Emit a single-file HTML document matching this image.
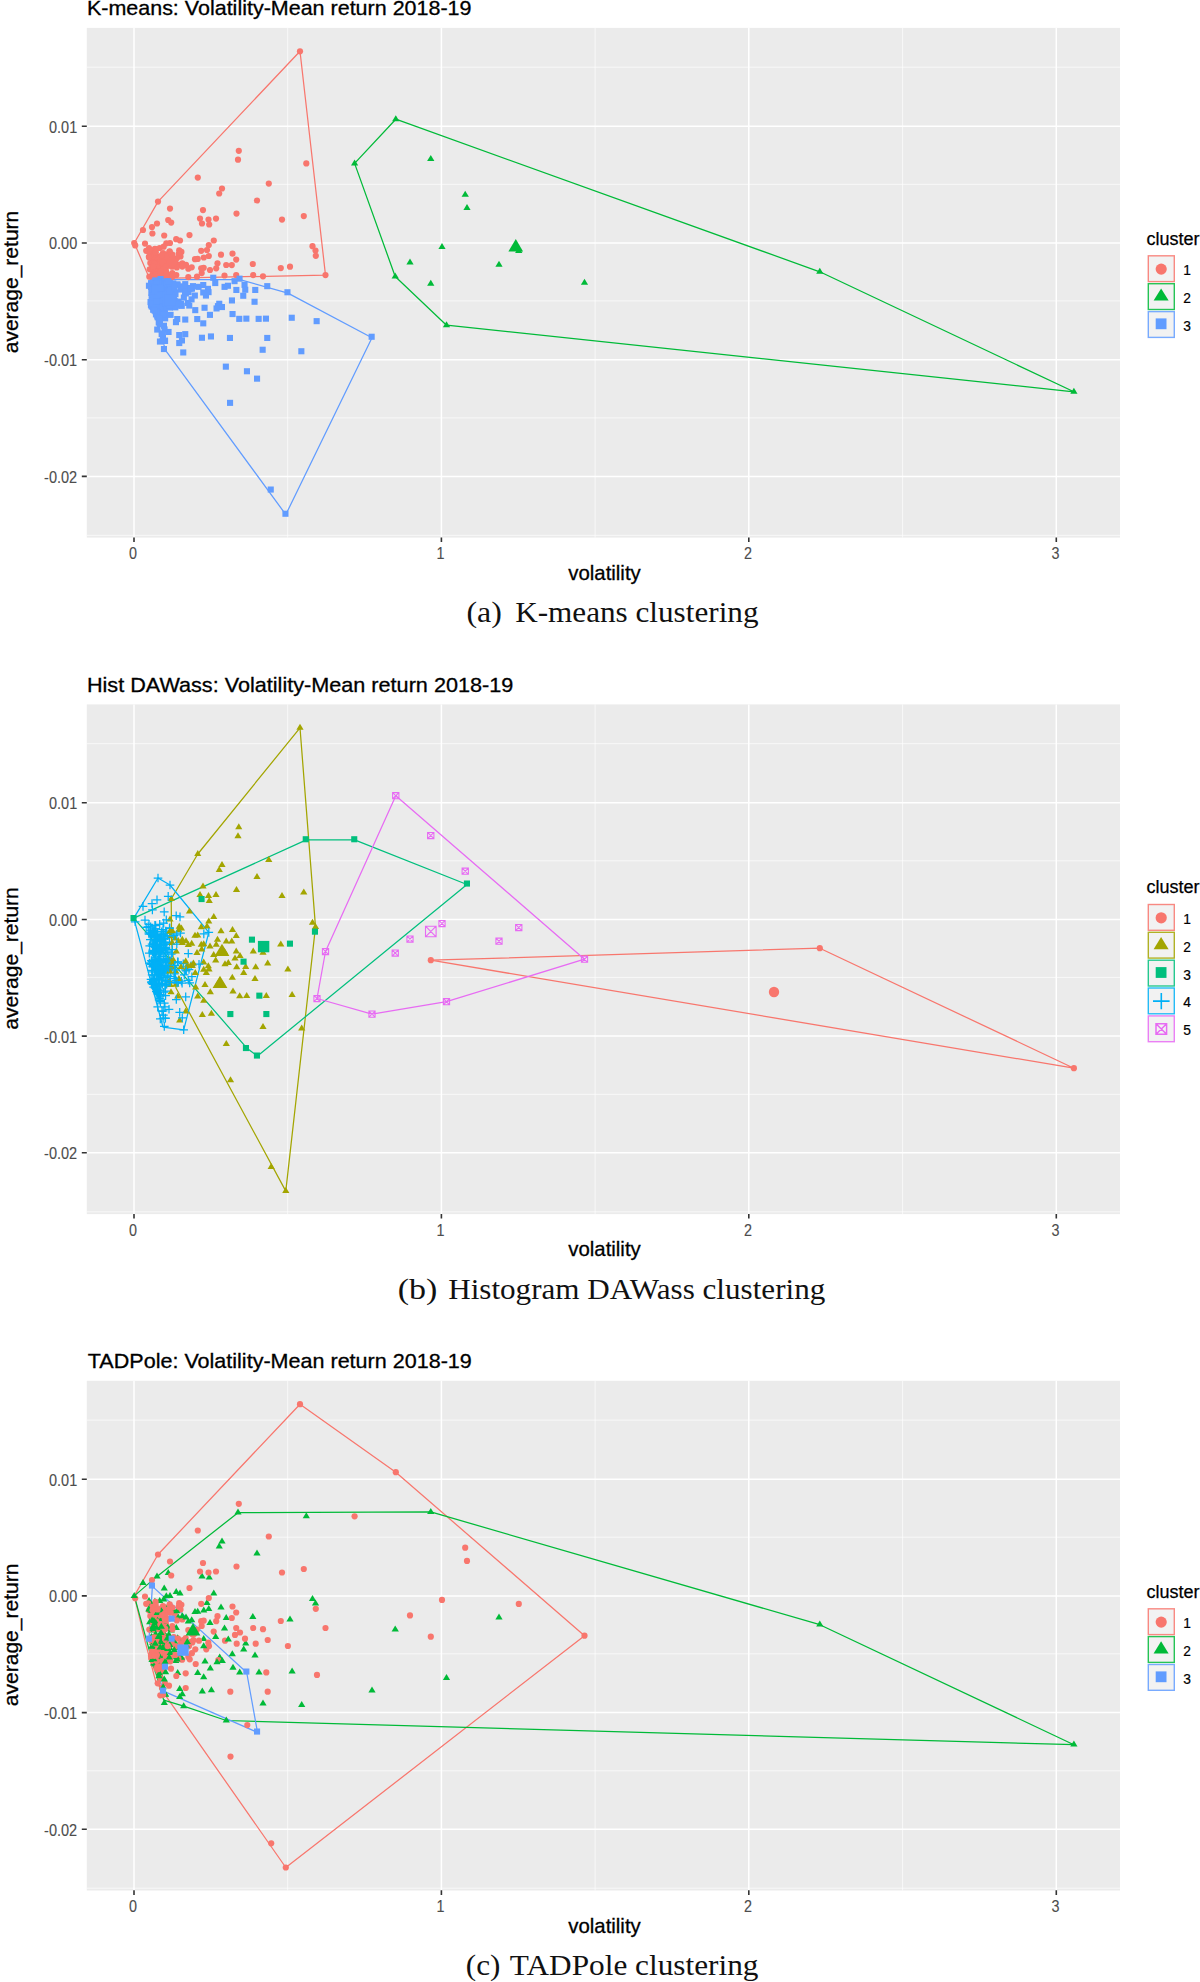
<!DOCTYPE html>
<html lang="en"><head><meta charset="utf-8"><title>Clustering: Volatility-Mean return 2018-19</title>
<style>
html,body{margin:0;padding:0;background:#fff}
svg{display:block}
text{font-family:"Liberation Sans",sans-serif}
.tt{font-size:20.4px;fill:#000;stroke:#000;stroke-width:.3px}
.tk{font-size:15.6px;fill:#4D4D4D;stroke:#4D4D4D;stroke-width:.12px}
.ax{font-size:21px;fill:#000;stroke:#000;stroke-width:.3px}
.lt{font-size:18px;fill:#000;stroke:#000;stroke-width:.25px}
.ll{font-size:13.8px;fill:#000;stroke:#000;stroke-width:.2px}
.cp{font-family:"Liberation Serif","DejaVu Serif",serif;font-size:28.5px;fill:#111}
</style></head><body>
<svg width="1200" height="1982" viewBox="0 0 1200 1982">
<rect width="1200" height="1982" fill="#fff"/>
<g id="plot-kmeans">
<rect x="86.8" y="27.9" width="1033.2" height="509.70000000000005" fill="#EBEBEB"/>
<path d="M287.7 27.9V537.6M595.1 27.9V537.6M902.6 27.9V537.6M86.8 67.2H1120.0M86.8 184.3H1120.0M86.8 300.9H1120.0M86.8 417.9H1120.0M86.8 535.3H1120.0" stroke="#fff" stroke-opacity="0.75" stroke-width="0.9" fill="none"/>
<path d="M134 27.9V537.6M441.4 27.9V537.6M748.8 27.9V537.6M1056.3 27.9V537.6M86.8 126.3H1120.0M86.8 243H1120.0M86.8 359.7H1120.0M86.8 476.4H1120.0" stroke="#fff" stroke-width="1.5" fill="none"/>
<path d="M134 537.4v4.6M441.4 537.4v4.6M748.8 537.4v4.6M1056.3 537.4v4.6M86.8 126.3h-5.0M86.8 243h-5.0M86.8 359.7h-5.0M86.8 476.4h-5.0" stroke="#333" stroke-width="1.6" fill="none"/>
<text class="tk" x="133.1" y="559.2" text-anchor="middle" textLength="8" lengthAdjust="spacingAndGlyphs">0</text>
<text class="tk" x="440.5" y="559.2" text-anchor="middle" textLength="8" lengthAdjust="spacingAndGlyphs">1</text>
<text class="tk" x="747.9" y="559.2" text-anchor="middle" textLength="8" lengthAdjust="spacingAndGlyphs">2</text>
<text class="tk" x="1055.4" y="559.2" text-anchor="middle" textLength="8" lengthAdjust="spacingAndGlyphs">3</text>
<text class="tk" x="77.2" y="132.7" text-anchor="end" textLength="28.2" lengthAdjust="spacingAndGlyphs">0.01</text>
<text class="tk" x="77.2" y="249.4" text-anchor="end" textLength="28.2" lengthAdjust="spacingAndGlyphs">0.00</text>
<text class="tk" x="77.2" y="366.1" text-anchor="end" textLength="33.1" lengthAdjust="spacingAndGlyphs">-0.01</text>
<text class="tk" x="77.2" y="482.8" text-anchor="end" textLength="33.1" lengthAdjust="spacingAndGlyphs">-0.02</text>
<text class="ax" x="604.5" y="579.8" text-anchor="middle" textLength="72.5" lengthAdjust="spacingAndGlyphs">volatility</text>
<text class="ax" transform="translate(18.2 282) rotate(-90)" text-anchor="middle" textLength="142.6" lengthAdjust="spacingAndGlyphs">average_return</text>
<text class="tt" x="86.9" y="15.3" textLength="384.6" lengthAdjust="spacingAndGlyphs">K-means: Volatility-Mean return 2018-19</text>
<path d="M134.3 243L158 201.6L300 51.3L325.5 275.1L149.5 278.6Z" stroke="#F8766D" stroke-width="1.25" fill="none" stroke-linejoin="round"/>
<path d="M354.6 163.4L395.8 119.2L819.8 271.8L1073.9 391.8L446.5 325.2L395.2 276.5Z" stroke="#00BA38" stroke-width="1.25" fill="none" stroke-linejoin="round"/>
<path d="M150.2 279.6L240 279.6L287.9 293.1L372 337.7L285.8 514.6L165.4 350.2L156.6 318L150.2 307Z" stroke="#619CFF" stroke-width="1.25" fill="none" stroke-linejoin="round"/>
<g><circle cx="300" cy="51.3" r="3.1" fill="#F8766D"/><circle cx="238.8" cy="150.8" r="3.1" fill="#F8766D"/><circle cx="238" cy="159.7" r="3.1" fill="#F8766D"/><circle cx="306.3" cy="163.4" r="3.1" fill="#F8766D"/><circle cx="197.8" cy="177.6" r="3.1" fill="#F8766D"/><circle cx="268.8" cy="183.6" r="3.1" fill="#F8766D"/><circle cx="222" cy="188.5" r="3.1" fill="#F8766D"/><circle cx="219.2" cy="193.5" r="3.1" fill="#F8766D"/><circle cx="257" cy="200.5" r="3.1" fill="#F8766D"/><circle cx="158" cy="201.6" r="3.1" fill="#F8766D"/><circle cx="170" cy="208.6" r="3.1" fill="#F8766D"/><circle cx="203" cy="210.1" r="3.1" fill="#F8766D"/><circle cx="236.5" cy="213.6" r="3.1" fill="#F8766D"/><circle cx="303.8" cy="216.1" r="3.1" fill="#F8766D"/><circle cx="282" cy="219.6" r="3.1" fill="#F8766D"/><circle cx="200" cy="218.6" r="3.1" fill="#F8766D"/><circle cx="208.5" cy="219.6" r="3.1" fill="#F8766D"/><circle cx="216" cy="218.6" r="3.1" fill="#F8766D"/><circle cx="202" cy="223.5" r="3.1" fill="#F8766D"/><circle cx="209.2" cy="224.5" r="3.1" fill="#F8766D"/><circle cx="168.2" cy="220" r="3.1" fill="#F8766D"/><circle cx="171.2" cy="222.6" r="3.1" fill="#F8766D"/><circle cx="157" cy="223.5" r="3.1" fill="#F8766D"/><circle cx="143" cy="230" r="3.1" fill="#F8766D"/><circle cx="152" cy="227.1" r="3.1" fill="#F8766D"/><circle cx="152.4" cy="233.5" r="3.1" fill="#F8766D"/><circle cx="164.2" cy="235.5" r="3.1" fill="#F8766D"/><circle cx="176.2" cy="239.2" r="3.1" fill="#F8766D"/><circle cx="180" cy="240.5" r="3.1" fill="#F8766D"/><circle cx="189.5" cy="235.1" r="3.1" fill="#F8766D"/><circle cx="213.8" cy="240.5" r="3.1" fill="#F8766D"/><circle cx="134.2" cy="243" r="3.1" fill="#F8766D"/><circle cx="145" cy="243.6" r="3.1" fill="#F8766D"/><circle cx="170" cy="243" r="3.1" fill="#F8766D"/><circle cx="208.8" cy="245.1" r="3.1" fill="#F8766D"/><circle cx="312.5" cy="246.2" r="3.1" fill="#F8766D"/><circle cx="315.5" cy="250.5" r="3.1" fill="#F8766D"/><circle cx="315.8" cy="255.8" r="3.1" fill="#F8766D"/><circle cx="146.2" cy="250.8" r="3.1" fill="#F8766D"/><circle cx="201.2" cy="250.8" r="3.1" fill="#F8766D"/><circle cx="207" cy="250" r="3.1" fill="#F8766D"/><circle cx="221" cy="254.7" r="3.1" fill="#F8766D"/><circle cx="232.5" cy="253.6" r="3.1" fill="#F8766D"/><circle cx="236.2" cy="259.6" r="3.1" fill="#F8766D"/><circle cx="208.8" cy="256" r="3.1" fill="#F8766D"/><circle cx="203.8" cy="257.5" r="3.1" fill="#F8766D"/><circle cx="195" cy="259.2" r="3.1" fill="#F8766D"/><circle cx="179.2" cy="250.3" r="3.1" fill="#F8766D"/><circle cx="217.5" cy="263.3" r="3.1" fill="#F8766D"/><circle cx="226.2" cy="265" r="3.1" fill="#F8766D"/><circle cx="231.8" cy="265.1" r="3.1" fill="#F8766D"/><circle cx="252.8" cy="264" r="3.1" fill="#F8766D"/><circle cx="290" cy="266.7" r="3.1" fill="#F8766D"/><circle cx="280.8" cy="268.1" r="3.1" fill="#F8766D"/><circle cx="325.5" cy="275.1" r="3.1" fill="#F8766D"/><circle cx="263" cy="276.3" r="3.1" fill="#F8766D"/><circle cx="253.2" cy="275.1" r="3.1" fill="#F8766D"/><circle cx="236.2" cy="275.1" r="3.1" fill="#F8766D"/><circle cx="224.5" cy="275.5" r="3.1" fill="#F8766D"/><circle cx="216.2" cy="268.3" r="3.1" fill="#F8766D"/><circle cx="210" cy="270" r="3.1" fill="#F8766D"/><circle cx="201.2" cy="268.3" r="3.1" fill="#F8766D"/><circle cx="203.7" cy="267.8" r="3.1" fill="#F8766D"/><circle cx="201.7" cy="273.1" r="3.1" fill="#F8766D"/><circle cx="172.3" cy="273.1" r="3.1" fill="#F8766D"/><circle cx="173.7" cy="259.1" r="3.1" fill="#F8766D"/><circle cx="170.3" cy="259.8" r="3.1" fill="#F8766D"/><circle cx="165" cy="262.4" r="3.1" fill="#F8766D"/><circle cx="157" cy="259.8" r="3.1" fill="#F8766D"/><circle cx="150.3" cy="263.1" r="3.1" fill="#F8766D"/><circle cx="155.7" cy="252.4" r="3.1" fill="#F8766D"/><circle cx="163" cy="253.1" r="3.1" fill="#F8766D"/><circle cx="156.3" cy="268.4" r="3.1" fill="#F8766D"/><circle cx="188.3" cy="277.1" r="3.1" fill="#F8766D"/><circle cx="166.3" cy="243.3" r="3.1" fill="#F8766D"/><circle cx="149" cy="248" r="3.1" fill="#F8766D"/><circle cx="159.7" cy="248" r="3.1" fill="#F8766D"/><circle cx="163.7" cy="246.7" r="3.1" fill="#F8766D"/><circle cx="197.7" cy="258.9" r="3.1" fill="#F8766D"/><circle cx="178.3" cy="264.7" r="3.1" fill="#F8766D"/><circle cx="182.3" cy="263.3" r="3.1" fill="#F8766D"/><circle cx="188.3" cy="268.7" r="3.1" fill="#F8766D"/><circle cx="191.7" cy="267.3" r="3.1" fill="#F8766D"/><circle cx="167.7" cy="274.7" r="3.1" fill="#F8766D"/><circle cx="157" cy="274.7" r="3.1" fill="#F8766D"/><circle cx="149.7" cy="269.3" r="3.1" fill="#F8766D"/><circle cx="172.1" cy="266.7" r="3.1" fill="#F8766D"/><circle cx="181.4" cy="251.9" r="3.1" fill="#F8766D"/><circle cx="197" cy="276.7" r="3.1" fill="#F8766D"/><circle cx="186" cy="264.8" r="3.1" fill="#F8766D"/><circle cx="180.5" cy="256.5" r="3.1" fill="#F8766D"/><circle cx="178.7" cy="253.8" r="3.1" fill="#F8766D"/><circle cx="150.3" cy="256.5" r="3.1" fill="#F8766D"/><circle cx="153.9" cy="258.3" r="3.1" fill="#F8766D"/><circle cx="157.6" cy="256.5" r="3.1" fill="#F8766D"/><circle cx="161.3" cy="258.3" r="3.1" fill="#F8766D"/><circle cx="165.8" cy="254.7" r="3.1" fill="#F8766D"/><circle cx="169.5" cy="251.9" r="3.1" fill="#F8766D"/><circle cx="154.8" cy="264.8" r="3.1" fill="#F8766D"/><circle cx="159.4" cy="262.9" r="3.1" fill="#F8766D"/><circle cx="175" cy="262" r="3.1" fill="#F8766D"/><circle cx="152.1" cy="267.5" r="3.1" fill="#F8766D"/><circle cx="160.3" cy="268.4" r="3.1" fill="#F8766D"/><circle cx="164.9" cy="266.6" r="3.1" fill="#F8766D"/><circle cx="169.5" cy="265.7" r="3.1" fill="#F8766D"/><circle cx="176.8" cy="267.5" r="3.1" fill="#F8766D"/><circle cx="153" cy="273.9" r="3.1" fill="#F8766D"/><circle cx="161.3" cy="273.9" r="3.1" fill="#F8766D"/><circle cx="172.3" cy="254.7" r="3.1" fill="#F8766D"/><circle cx="176.8" cy="258.3" r="3.1" fill="#F8766D"/><circle cx="182.3" cy="266.6" r="3.1" fill="#F8766D"/><circle cx="149.3" cy="276.7" r="3.1" fill="#F8766D"/><circle cx="153.9" cy="277.6" r="3.1" fill="#F8766D"/><circle cx="163.1" cy="277.6" r="3.1" fill="#F8766D"/><circle cx="171.3" cy="277.6" r="3.1" fill="#F8766D"/><circle cx="135.2" cy="245.4" r="3.1" fill="#F8766D"/><circle cx="155.1" cy="270.1" r="3.1" fill="#F8766D"/><circle cx="152.5" cy="275.4" r="3.1" fill="#F8766D"/><circle cx="158.3" cy="275.2" r="3.1" fill="#F8766D"/><circle cx="155.9" cy="261.3" r="3.1" fill="#F8766D"/><circle cx="157.3" cy="264.7" r="3.1" fill="#F8766D"/><circle cx="157.2" cy="260.2" r="3.1" fill="#F8766D"/><circle cx="156.1" cy="276.2" r="3.1" fill="#F8766D"/><circle cx="163.6" cy="257.8" r="3.1" fill="#F8766D"/><circle cx="159.2" cy="264.6" r="3.1" fill="#F8766D"/><circle cx="154.4" cy="274.7" r="3.1" fill="#F8766D"/><circle cx="162.9" cy="273.6" r="3.1" fill="#F8766D"/><circle cx="155.1" cy="259.6" r="3.1" fill="#F8766D"/><circle cx="161.6" cy="263.8" r="3.1" fill="#F8766D"/><circle cx="154.6" cy="258.6" r="3.1" fill="#F8766D"/><circle cx="169.7" cy="251.4" r="3.1" fill="#F8766D"/><circle cx="161.3" cy="258.3" r="3.1" fill="#F8766D"/><circle cx="152.7" cy="257.3" r="3.1" fill="#F8766D"/><circle cx="159.3" cy="264.3" r="3.1" fill="#F8766D"/><circle cx="152.8" cy="257" r="3.1" fill="#F8766D"/><circle cx="153.9" cy="268" r="3.1" fill="#F8766D"/><circle cx="153" cy="276.1" r="3.1" fill="#F8766D"/><circle cx="154.9" cy="248.8" r="3.1" fill="#F8766D"/><circle cx="156.3" cy="268.8" r="3.1" fill="#F8766D"/><circle cx="172.4" cy="276.4" r="3.1" fill="#F8766D"/><circle cx="160.9" cy="271.1" r="3.1" fill="#F8766D"/><circle cx="156.6" cy="258.1" r="3.1" fill="#F8766D"/><circle cx="167.3" cy="259.3" r="3.1" fill="#F8766D"/><circle cx="165.3" cy="276" r="3.1" fill="#F8766D"/><circle cx="152.9" cy="270" r="3.1" fill="#F8766D"/><circle cx="153.3" cy="254.3" r="3.1" fill="#F8766D"/><circle cx="164.9" cy="260.4" r="3.1" fill="#F8766D"/><circle cx="148.1" cy="250.4" r="3.1" fill="#F8766D"/><circle cx="160.5" cy="276" r="3.1" fill="#F8766D"/><circle cx="163.9" cy="267.7" r="3.1" fill="#F8766D"/><circle cx="153.1" cy="274.7" r="3.1" fill="#F8766D"/><circle cx="157.5" cy="270.8" r="3.1" fill="#F8766D"/><circle cx="166" cy="272" r="3.1" fill="#F8766D"/><circle cx="164.4" cy="262.3" r="3.1" fill="#F8766D"/><circle cx="166" cy="276.2" r="3.1" fill="#F8766D"/><circle cx="160.4" cy="261.4" r="3.1" fill="#F8766D"/><circle cx="155.8" cy="270.2" r="3.1" fill="#F8766D"/><circle cx="154.8" cy="270" r="3.1" fill="#F8766D"/><circle cx="153.5" cy="276.1" r="3.1" fill="#F8766D"/><circle cx="156.7" cy="264.1" r="3.1" fill="#F8766D"/><circle cx="154.7" cy="276.5" r="3.1" fill="#F8766D"/><circle cx="154.6" cy="263.7" r="3.1" fill="#F8766D"/><circle cx="152.2" cy="253.9" r="3.1" fill="#F8766D"/><circle cx="150.6" cy="250.5" r="3.1" fill="#F8766D"/><circle cx="165.9" cy="270.9" r="3.1" fill="#F8766D"/><circle cx="165.6" cy="267.8" r="3.1" fill="#F8766D"/><circle cx="159.3" cy="275.9" r="3.1" fill="#F8766D"/><circle cx="157.5" cy="267.9" r="3.1" fill="#F8766D"/><circle cx="176.3" cy="275" r="3.1" fill="#F8766D"/><circle cx="155.6" cy="271" r="3.1" fill="#F8766D"/><circle cx="163.6" cy="266" r="3.1" fill="#F8766D"/><circle cx="150.1" cy="254.4" r="3.1" fill="#F8766D"/><circle cx="169.9" cy="255.1" r="3.1" fill="#F8766D"/><circle cx="151.6" cy="258" r="3.1" fill="#F8766D"/><circle cx="165.7" cy="266" r="3.1" fill="#F8766D"/><circle cx="148.9" cy="256.5" r="3.1" fill="#F8766D"/><circle cx="154.5" cy="254.8" r="3.1" fill="#F8766D"/><circle cx="166.1" cy="256.8" r="3.1" fill="#F8766D"/><circle cx="153.2" cy="266.7" r="3.1" fill="#F8766D"/><circle cx="150.8" cy="257.3" r="3.1" fill="#F8766D"/><circle cx="160.8" cy="273.3" r="3.1" fill="#F8766D"/><circle cx="172.1" cy="256.6" r="3.1" fill="#F8766D"/><circle cx="155.6" cy="249" r="3.1" fill="#F8766D"/><circle cx="154.7" cy="275.8" r="3.1" fill="#F8766D"/><circle cx="156" cy="274.4" r="3.1" fill="#F8766D"/><circle cx="161.7" cy="255.3" r="3.1" fill="#F8766D"/><circle cx="155.4" cy="252.5" r="3.1" fill="#F8766D"/><circle cx="162.2" cy="262.1" r="3.1" fill="#F8766D"/><circle cx="149" cy="257.6" r="3.1" fill="#F8766D"/><circle cx="163.4" cy="269.1" r="3.1" fill="#F8766D"/><circle cx="160.4" cy="271.7" r="3.1" fill="#F8766D"/></g>
<g><path d="M395.8 115.2L399.4 121.2L392.1 121.2Z" fill="#00BA38"/><path d="M354.6 159.4L358.2 165.4L351 165.4Z" fill="#00BA38"/><path d="M410 258.5L413.6 264.5L406.4 264.5Z" fill="#00BA38"/><path d="M395.2 272.5L398.9 278.5L391.6 278.5Z" fill="#00BA38"/><path d="M442 243L445.6 249L438.4 249Z" fill="#00BA38"/><path d="M430.8 279.7L434.4 285.7L427.1 285.7Z" fill="#00BA38"/><path d="M446.5 321.2L450.1 327.2L442.9 327.2Z" fill="#00BA38"/><path d="M499 260.7L502.6 266.7L495.4 266.7Z" fill="#00BA38"/><path d="M518.8 247L522.4 253L515.1 253Z" fill="#00BA38"/><path d="M584.5 278.7L588.1 284.7L580.9 284.7Z" fill="#00BA38"/><path d="M430.8 155L434.4 161L427.1 161Z" fill="#00BA38"/><path d="M465.2 190.7L468.9 196.7L461.6 196.7Z" fill="#00BA38"/><path d="M467 204L470.6 210L463.4 210Z" fill="#00BA38"/><path d="M819.8 267.7L823.4 273.7L816.2 273.7Z" fill="#00BA38"/><path d="M1073.9 387.7L1077.5 393.7L1070.3 393.7Z" fill="#00BA38"/></g>
<g><rect x="236.5" y="275.6" width="6.1" height="6.1" fill="#619CFF"/><rect x="210.2" y="274.7" width="6.1" height="6.1" fill="#619CFF"/><rect x="231.5" y="278.1" width="6.1" height="6.1" fill="#619CFF"/><rect x="241.5" y="281.8" width="6.1" height="6.1" fill="#619CFF"/><rect x="264.2" y="283.1" width="6.1" height="6.1" fill="#619CFF"/><rect x="252.2" y="286.9" width="6.1" height="6.1" fill="#619CFF"/><rect x="233.3" y="286.9" width="6.1" height="6.1" fill="#619CFF"/><rect x="221.5" y="283.8" width="6.1" height="6.1" fill="#619CFF"/><rect x="204.9" y="285.8" width="6.1" height="6.1" fill="#619CFF"/><rect x="205.5" y="289.1" width="6.1" height="6.1" fill="#619CFF"/><rect x="202.9" y="292.5" width="6.1" height="6.1" fill="#619CFF"/><rect x="191.8" y="292.5" width="6.1" height="6.1" fill="#619CFF"/><rect x="195.5" y="283.8" width="6.1" height="6.1" fill="#619CFF"/><rect x="182.2" y="281.1" width="6.1" height="6.1" fill="#619CFF"/><rect x="177.5" y="286.5" width="6.1" height="6.1" fill="#619CFF"/><rect x="185.5" y="289.1" width="6.1" height="6.1" fill="#619CFF"/><rect x="186.2" y="302.5" width="6.1" height="6.1" fill="#619CFF"/><rect x="192.2" y="307.1" width="6.1" height="6.1" fill="#619CFF"/><rect x="166.9" y="304.5" width="6.1" height="6.1" fill="#619CFF"/><rect x="167.5" y="311.8" width="6.1" height="6.1" fill="#619CFF"/><rect x="156.9" y="309.8" width="6.1" height="6.1" fill="#619CFF"/><rect x="182.2" y="316.5" width="6.1" height="6.1" fill="#619CFF"/><rect x="172.9" y="319.1" width="6.1" height="6.1" fill="#619CFF"/><rect x="165.5" y="328.9" width="6.1" height="6.1" fill="#619CFF"/><rect x="182.2" y="331.1" width="6.1" height="6.1" fill="#619CFF"/><rect x="154.2" y="326.5" width="6.1" height="6.1" fill="#619CFF"/><rect x="156.9" y="338.5" width="6.1" height="6.1" fill="#619CFF"/><rect x="226.9" y="334.9" width="6.1" height="6.1" fill="#619CFF"/><rect x="264.2" y="334.9" width="6.1" height="6.1" fill="#619CFF"/><rect x="262.9" y="315.6" width="6.1" height="6.1" fill="#619CFF"/><rect x="161.5" y="281.8" width="6.1" height="6.1" fill="#619CFF"/><rect x="152.2" y="284.5" width="6.1" height="6.1" fill="#619CFF"/><rect x="156.2" y="289.8" width="6.1" height="6.1" fill="#619CFF"/><rect x="165.5" y="287.1" width="6.1" height="6.1" fill="#619CFF"/><rect x="154.9" y="297.8" width="6.1" height="6.1" fill="#619CFF"/><rect x="160.2" y="279.1" width="6.1" height="6.1" fill="#619CFF"/><rect x="214.9" y="303.1" width="6.1" height="6.1" fill="#619CFF"/><rect x="157.5" y="276" width="6.1" height="6.1" fill="#619CFF"/><rect x="154.9" y="280" width="6.1" height="6.1" fill="#619CFF"/><rect x="174.2" y="281.4" width="6.1" height="6.1" fill="#619CFF"/><rect x="200.2" y="282" width="6.1" height="6.1" fill="#619CFF"/><rect x="212.2" y="280" width="6.1" height="6.1" fill="#619CFF"/><rect x="224.9" y="282.7" width="6.1" height="6.1" fill="#619CFF"/><rect x="200.2" y="289.4" width="6.1" height="6.1" fill="#619CFF"/><rect x="242.2" y="286.7" width="6.1" height="6.1" fill="#619CFF"/><rect x="240.2" y="292.7" width="6.1" height="6.1" fill="#619CFF"/><rect x="228.9" y="297.4" width="6.1" height="6.1" fill="#619CFF"/><rect x="251.5" y="298.7" width="6.1" height="6.1" fill="#619CFF"/><rect x="216.2" y="300.7" width="6.1" height="6.1" fill="#619CFF"/><rect x="218.9" y="304" width="6.1" height="6.1" fill="#619CFF"/><rect x="213.5" y="305.4" width="6.1" height="6.1" fill="#619CFF"/><rect x="201.5" y="304.7" width="6.1" height="6.1" fill="#619CFF"/><rect x="206.9" y="311.8" width="6.1" height="6.1" fill="#619CFF"/><rect x="229.5" y="311" width="6.1" height="6.1" fill="#619CFF"/><rect x="236.2" y="315.8" width="6.1" height="6.1" fill="#619CFF"/><rect x="255.6" y="315.8" width="6.1" height="6.1" fill="#619CFF"/><rect x="194.2" y="316" width="6.1" height="6.1" fill="#619CFF"/><rect x="200.2" y="320.3" width="6.1" height="6.1" fill="#619CFF"/><rect x="174.2" y="316" width="6.1" height="6.1" fill="#619CFF"/><rect x="160.9" y="322.7" width="6.1" height="6.1" fill="#619CFF"/><rect x="176.2" y="332" width="6.1" height="6.1" fill="#619CFF"/><rect x="178.9" y="337.4" width="6.1" height="6.1" fill="#619CFF"/><rect x="176.2" y="340" width="6.1" height="6.1" fill="#619CFF"/><rect x="198.9" y="334.7" width="6.1" height="6.1" fill="#619CFF"/><rect x="207.9" y="333.4" width="6.1" height="6.1" fill="#619CFF"/><rect x="259.6" y="346.7" width="6.1" height="6.1" fill="#619CFF"/><rect x="180.2" y="349.4" width="6.1" height="6.1" fill="#619CFF"/><rect x="160.9" y="346" width="6.1" height="6.1" fill="#619CFF"/><rect x="158.9" y="302.7" width="6.1" height="6.1" fill="#619CFF"/><rect x="161.5" y="305.4" width="6.1" height="6.1" fill="#619CFF"/><rect x="170.9" y="293.4" width="6.1" height="6.1" fill="#619CFF"/><rect x="166.9" y="296" width="6.1" height="6.1" fill="#619CFF"/><rect x="164.2" y="292" width="6.1" height="6.1" fill="#619CFF"/><rect x="152.2" y="277.4" width="6.1" height="6.1" fill="#619CFF"/><rect x="145.9" y="282.7" width="6.1" height="6.1" fill="#619CFF"/><rect x="168.6" y="282.7" width="6.1" height="6.1" fill="#619CFF"/><rect x="161.9" y="310.7" width="6.1" height="6.1" fill="#619CFF"/><rect x="159.9" y="334.7" width="6.1" height="6.1" fill="#619CFF"/><rect x="243.3" y="315.6" width="6.1" height="6.1" fill="#619CFF"/><rect x="284.4" y="289.2" width="6.1" height="6.1" fill="#619CFF"/><rect x="288.7" y="314.7" width="6.1" height="6.1" fill="#619CFF"/><rect x="313.6" y="318.1" width="6.1" height="6.1" fill="#619CFF"/><rect x="298.3" y="348.2" width="6.1" height="6.1" fill="#619CFF"/><rect x="368.6" y="333.7" width="6.1" height="6.1" fill="#619CFF"/><rect x="254" y="375.6" width="6.1" height="6.1" fill="#619CFF"/><rect x="243.9" y="368.2" width="6.1" height="6.1" fill="#619CFF"/><rect x="227" y="399.8" width="6.1" height="6.1" fill="#619CFF"/><rect x="267.7" y="486.5" width="6.1" height="6.1" fill="#619CFF"/><rect x="282.4" y="510.7" width="6.1" height="6.1" fill="#619CFF"/><rect x="222.8" y="363.6" width="6.1" height="6.1" fill="#619CFF"/><rect x="182" y="289.5" width="6.1" height="6.1" fill="#619CFF"/><rect x="182.8" y="290.4" width="6.1" height="6.1" fill="#619CFF"/><rect x="149.6" y="303.6" width="6.1" height="6.1" fill="#619CFF"/><rect x="155.8" y="278.6" width="6.1" height="6.1" fill="#619CFF"/><rect x="150.3" y="302.5" width="6.1" height="6.1" fill="#619CFF"/><rect x="154.7" y="294.1" width="6.1" height="6.1" fill="#619CFF"/><rect x="157.8" y="295.7" width="6.1" height="6.1" fill="#619CFF"/><rect x="161.6" y="278.4" width="6.1" height="6.1" fill="#619CFF"/><rect x="158.7" y="304.3" width="6.1" height="6.1" fill="#619CFF"/><rect x="161.2" y="289.6" width="6.1" height="6.1" fill="#619CFF"/><rect x="149.7" y="283.1" width="6.1" height="6.1" fill="#619CFF"/><rect x="149.7" y="285.8" width="6.1" height="6.1" fill="#619CFF"/><rect x="155.4" y="298.6" width="6.1" height="6.1" fill="#619CFF"/><rect x="162.9" y="281.4" width="6.1" height="6.1" fill="#619CFF"/><rect x="165.2" y="287.5" width="6.1" height="6.1" fill="#619CFF"/><rect x="152.2" y="289.3" width="6.1" height="6.1" fill="#619CFF"/><rect x="157" y="281.4" width="6.1" height="6.1" fill="#619CFF"/><rect x="161" y="289.8" width="6.1" height="6.1" fill="#619CFF"/><rect x="148.6" y="294.4" width="6.1" height="6.1" fill="#619CFF"/><rect x="155.2" y="290.7" width="6.1" height="6.1" fill="#619CFF"/><rect x="167" y="281.1" width="6.1" height="6.1" fill="#619CFF"/><rect x="155.4" y="293" width="6.1" height="6.1" fill="#619CFF"/><rect x="150.9" y="299" width="6.1" height="6.1" fill="#619CFF"/><rect x="150.6" y="285.4" width="6.1" height="6.1" fill="#619CFF"/><rect x="150.5" y="280.5" width="6.1" height="6.1" fill="#619CFF"/><rect x="148.3" y="289.9" width="6.1" height="6.1" fill="#619CFF"/><rect x="155.9" y="304.3" width="6.1" height="6.1" fill="#619CFF"/><rect x="153.1" y="290.2" width="6.1" height="6.1" fill="#619CFF"/><rect x="157.9" y="299.8" width="6.1" height="6.1" fill="#619CFF"/><rect x="147.9" y="301.7" width="6.1" height="6.1" fill="#619CFF"/><rect x="155.2" y="302.9" width="6.1" height="6.1" fill="#619CFF"/><rect x="153.2" y="281.6" width="6.1" height="6.1" fill="#619CFF"/><rect x="155.8" y="288.5" width="6.1" height="6.1" fill="#619CFF"/><rect x="166.5" y="279.8" width="6.1" height="6.1" fill="#619CFF"/><rect x="164.8" y="286.1" width="6.1" height="6.1" fill="#619CFF"/><rect x="164.2" y="295.4" width="6.1" height="6.1" fill="#619CFF"/><rect x="174.5" y="281.7" width="6.1" height="6.1" fill="#619CFF"/><rect x="172" y="298.2" width="6.1" height="6.1" fill="#619CFF"/><rect x="150.7" y="300.5" width="6.1" height="6.1" fill="#619CFF"/><rect x="161.6" y="297.1" width="6.1" height="6.1" fill="#619CFF"/><rect x="147.9" y="283.2" width="6.1" height="6.1" fill="#619CFF"/><rect x="155.8" y="280.4" width="6.1" height="6.1" fill="#619CFF"/><rect x="156.8" y="289.8" width="6.1" height="6.1" fill="#619CFF"/><rect x="159" y="288.3" width="6.1" height="6.1" fill="#619CFF"/><rect x="148.6" y="280.9" width="6.1" height="6.1" fill="#619CFF"/><rect x="151.5" y="284.1" width="6.1" height="6.1" fill="#619CFF"/><rect x="151.5" y="278.9" width="6.1" height="6.1" fill="#619CFF"/><rect x="148.3" y="282.8" width="6.1" height="6.1" fill="#619CFF"/><rect x="173.6" y="302.6" width="6.1" height="6.1" fill="#619CFF"/><rect x="162.6" y="303.6" width="6.1" height="6.1" fill="#619CFF"/><rect x="157" y="293.4" width="6.1" height="6.1" fill="#619CFF"/><rect x="151.9" y="286.7" width="6.1" height="6.1" fill="#619CFF"/><rect x="172" y="289.4" width="6.1" height="6.1" fill="#619CFF"/><rect x="153.3" y="285.2" width="6.1" height="6.1" fill="#619CFF"/><rect x="148" y="280.1" width="6.1" height="6.1" fill="#619CFF"/><rect x="148" y="283.9" width="6.1" height="6.1" fill="#619CFF"/><rect x="154.5" y="287.1" width="6.1" height="6.1" fill="#619CFF"/><rect x="164.2" y="289.2" width="6.1" height="6.1" fill="#619CFF"/><rect x="157.2" y="292.2" width="6.1" height="6.1" fill="#619CFF"/><rect x="158.8" y="303.4" width="6.1" height="6.1" fill="#619CFF"/><rect x="149.4" y="283.3" width="6.1" height="6.1" fill="#619CFF"/><rect x="156.7" y="294.9" width="6.1" height="6.1" fill="#619CFF"/><rect x="149.2" y="291.5" width="6.1" height="6.1" fill="#619CFF"/><rect x="162.3" y="285.2" width="6.1" height="6.1" fill="#619CFF"/><rect x="156" y="297.8" width="6.1" height="6.1" fill="#619CFF"/><rect x="150.2" y="284.5" width="6.1" height="6.1" fill="#619CFF"/><rect x="153.6" y="280.7" width="6.1" height="6.1" fill="#619CFF"/><rect x="160.9" y="292.7" width="6.1" height="6.1" fill="#619CFF"/><rect x="152" y="304.2" width="6.1" height="6.1" fill="#619CFF"/><rect x="156.5" y="287.2" width="6.1" height="6.1" fill="#619CFF"/><rect x="148.4" y="301.8" width="6.1" height="6.1" fill="#619CFF"/><rect x="156.3" y="304.6" width="6.1" height="6.1" fill="#619CFF"/><rect x="168.1" y="281.4" width="6.1" height="6.1" fill="#619CFF"/><rect x="157.2" y="289.6" width="6.1" height="6.1" fill="#619CFF"/><rect x="162.7" y="280.1" width="6.1" height="6.1" fill="#619CFF"/><rect x="172.3" y="304.3" width="6.1" height="6.1" fill="#619CFF"/><rect x="151.5" y="284.4" width="6.1" height="6.1" fill="#619CFF"/><rect x="162.3" y="285.2" width="6.1" height="6.1" fill="#619CFF"/><rect x="183.8" y="285" width="6.1" height="6.1" fill="#619CFF"/><rect x="156.3" y="286.7" width="6.1" height="6.1" fill="#619CFF"/><rect x="153.3" y="304.1" width="6.1" height="6.1" fill="#619CFF"/><rect x="159.6" y="287" width="6.1" height="6.1" fill="#619CFF"/><rect x="156.7" y="290.8" width="6.1" height="6.1" fill="#619CFF"/><rect x="147.5" y="299" width="6.1" height="6.1" fill="#619CFF"/><rect x="159.3" y="285" width="6.1" height="6.1" fill="#619CFF"/><rect x="154.9" y="288.6" width="6.1" height="6.1" fill="#619CFF"/><rect x="149.4" y="286.1" width="6.1" height="6.1" fill="#619CFF"/><rect x="165.8" y="301.1" width="6.1" height="6.1" fill="#619CFF"/><rect x="153.5" y="295.7" width="6.1" height="6.1" fill="#619CFF"/><rect x="175.5" y="298.6" width="6.1" height="6.1" fill="#619CFF"/><rect x="162" y="304.6" width="6.1" height="6.1" fill="#619CFF"/><rect x="165.5" y="281.8" width="6.1" height="6.1" fill="#619CFF"/><rect x="162.7" y="300.6" width="6.1" height="6.1" fill="#619CFF"/><rect x="159.7" y="296.9" width="6.1" height="6.1" fill="#619CFF"/><rect x="163.8" y="281.6" width="6.1" height="6.1" fill="#619CFF"/><rect x="149.8" y="300" width="6.1" height="6.1" fill="#619CFF"/><rect x="172.9" y="300.3" width="6.1" height="6.1" fill="#619CFF"/><rect x="163.3" y="303.9" width="6.1" height="6.1" fill="#619CFF"/><rect x="154.7" y="284.1" width="6.1" height="6.1" fill="#619CFF"/><rect x="149.8" y="303.9" width="6.1" height="6.1" fill="#619CFF"/><rect x="165.7" y="300.6" width="6.1" height="6.1" fill="#619CFF"/><rect x="154.4" y="292.3" width="6.1" height="6.1" fill="#619CFF"/><rect x="172.4" y="291.2" width="6.1" height="6.1" fill="#619CFF"/><rect x="148.5" y="303.2" width="6.1" height="6.1" fill="#619CFF"/><rect x="170.2" y="280.4" width="6.1" height="6.1" fill="#619CFF"/><rect x="151.1" y="284.7" width="6.1" height="6.1" fill="#619CFF"/><rect x="149.6" y="300.9" width="6.1" height="6.1" fill="#619CFF"/><rect x="170.8" y="298" width="6.1" height="6.1" fill="#619CFF"/><rect x="159.2" y="291.3" width="6.1" height="6.1" fill="#619CFF"/><rect x="158.1" y="285.7" width="6.1" height="6.1" fill="#619CFF"/><rect x="150.9" y="294.6" width="6.1" height="6.1" fill="#619CFF"/><rect x="151.7" y="286.9" width="6.1" height="6.1" fill="#619CFF"/><rect x="153.4" y="298.1" width="6.1" height="6.1" fill="#619CFF"/><rect x="164.4" y="291" width="6.1" height="6.1" fill="#619CFF"/><rect x="157.5" y="285.2" width="6.1" height="6.1" fill="#619CFF"/><rect x="166.3" y="291.2" width="6.1" height="6.1" fill="#619CFF"/><rect x="162.7" y="291.9" width="6.1" height="6.1" fill="#619CFF"/><rect x="152.4" y="304.9" width="6.1" height="6.1" fill="#619CFF"/><rect x="179.9" y="283.3" width="6.1" height="6.1" fill="#619CFF"/><rect x="151.9" y="285.7" width="6.1" height="6.1" fill="#619CFF"/><rect x="162.3" y="300.2" width="6.1" height="6.1" fill="#619CFF"/><rect x="175" y="301.9" width="6.1" height="6.1" fill="#619CFF"/><rect x="166.6" y="280.4" width="6.1" height="6.1" fill="#619CFF"/><rect x="178.7" y="302.8" width="6.1" height="6.1" fill="#619CFF"/><rect x="180.8" y="294.5" width="6.1" height="6.1" fill="#619CFF"/><rect x="188.5" y="296.3" width="6.1" height="6.1" fill="#619CFF"/><rect x="178" y="300.8" width="6.1" height="6.1" fill="#619CFF"/><rect x="165.2" y="278.1" width="6.1" height="6.1" fill="#619CFF"/><rect x="183" y="288.6" width="6.1" height="6.1" fill="#619CFF"/><rect x="168.3" y="287" width="6.1" height="6.1" fill="#619CFF"/><rect x="167.8" y="286.7" width="6.1" height="6.1" fill="#619CFF"/><rect x="184.8" y="299.9" width="6.1" height="6.1" fill="#619CFF"/><rect x="189.9" y="283.1" width="6.1" height="6.1" fill="#619CFF"/><rect x="188.9" y="285.6" width="6.1" height="6.1" fill="#619CFF"/><rect x="166.3" y="288.2" width="6.1" height="6.1" fill="#619CFF"/><rect x="166.6" y="302.1" width="6.1" height="6.1" fill="#619CFF"/><rect x="187.6" y="285.3" width="6.1" height="6.1" fill="#619CFF"/><rect x="187.1" y="285.5" width="6.1" height="6.1" fill="#619CFF"/><rect x="171.3" y="285" width="6.1" height="6.1" fill="#619CFF"/><rect x="154.4" y="313.3" width="6.1" height="6.1" fill="#619CFF"/><rect x="162.1" y="315.3" width="6.1" height="6.1" fill="#619CFF"/><rect x="158.6" y="331" width="6.1" height="6.1" fill="#619CFF"/><rect x="162" y="337.9" width="6.1" height="6.1" fill="#619CFF"/><rect x="151.6" y="306.5" width="6.1" height="6.1" fill="#619CFF"/><rect x="156" y="316.7" width="6.1" height="6.1" fill="#619CFF"/><rect x="154.4" y="312.3" width="6.1" height="6.1" fill="#619CFF"/><rect x="159.6" y="337.9" width="6.1" height="6.1" fill="#619CFF"/><rect x="154.7" y="314.3" width="6.1" height="6.1" fill="#619CFF"/><rect x="152.9" y="311.3" width="6.1" height="6.1" fill="#619CFF"/><rect x="161.5" y="326.4" width="6.1" height="6.1" fill="#619CFF"/><rect x="155.7" y="319.4" width="6.1" height="6.1" fill="#619CFF"/><rect x="152.7" y="308.5" width="6.1" height="6.1" fill="#619CFF"/><rect x="156.7" y="320.1" width="6.1" height="6.1" fill="#619CFF"/><rect x="161.9" y="337.6" width="6.1" height="6.1" fill="#619CFF"/><rect x="156.2" y="318.2" width="6.1" height="6.1" fill="#619CFF"/><rect x="153.1" y="308.9" width="6.1" height="6.1" fill="#619CFF"/><rect x="150.1" y="306.7" width="6.1" height="6.1" fill="#619CFF"/><rect x="154.6" y="309.7" width="6.1" height="6.1" fill="#619CFF"/><rect x="159.8" y="330.5" width="6.1" height="6.1" fill="#619CFF"/><rect x="153.8" y="309.9" width="6.1" height="6.1" fill="#619CFF"/><rect x="156.9" y="314.1" width="6.1" height="6.1" fill="#619CFF"/><rect x="151.6" y="307.6" width="6.1" height="6.1" fill="#619CFF"/><rect x="156.9" y="321.2" width="6.1" height="6.1" fill="#619CFF"/><rect x="160.3" y="311.8" width="6.1" height="6.1" fill="#619CFF"/><rect x="156.8" y="315.7" width="6.1" height="6.1" fill="#619CFF"/></g>
<circle cx="172" cy="262" r="5.2" fill="#F8766D"/>
<path d="M515.8 239L523.1 251.4L508.4 251.4Z" fill="#00BA38"/>
<rect x="164.3" y="294.3" width="11.4" height="11.4" fill="#619CFF"/>
<text class="lt" x="1146.6" y="244.6" textLength="53" lengthAdjust="spacingAndGlyphs">cluster</text>
<rect x="1148.3" y="255.8" width="26" height="25.8" fill="#F2F2F2" stroke="#F8766D" stroke-opacity="0.85" stroke-width="1.4"/>
<circle cx="1161.2" cy="269.1" r="5.6" fill="#F8766D"/>
<text class="ll" x="1183.3" y="275.2">1</text>
<rect x="1148.3" y="283.7" width="26" height="25.8" fill="#F2F2F2" stroke="#00BA38" stroke-opacity="0.85" stroke-width="1.4"/>
<path d="M1161.1 288.4L1168.6 300.6L1153.6 300.6Z" fill="#00BA38"/>
<text class="ll" x="1183.3" y="303.1">2</text>
<rect x="1148.3" y="311.6" width="26" height="25.8" fill="#F2F2F2" stroke="#619CFF" stroke-opacity="0.85" stroke-width="1.4"/>
<rect x="1155.7" y="318.4" width="10.8" height="10.8" fill="#619CFF"/>
<text class="ll" x="1183.3" y="330.9">3</text>
<text class="cp" y="622.3"><tspan x="466.4" textLength="35.4" lengthAdjust="spacingAndGlyphs">(a)</tspan><tspan x="507.4" textLength="251.1" lengthAdjust="spacingAndGlyphs"> K-means clustering</tspan></text>
</g>
<g id="plot-dawass">
<rect x="86.8" y="704.4" width="1033.2" height="509.70000000000005" fill="#EBEBEB"/>
<path d="M287.7 704.4V1214.1M595.1 704.4V1214.1M902.6 704.4V1214.1M86.8 743.7H1120.0M86.8 860.8H1120.0M86.8 977.4H1120.0M86.8 1094.3H1120.0M86.8 1211.8H1120.0" stroke="#fff" stroke-opacity="0.75" stroke-width="0.9" fill="none"/>
<path d="M134 704.4V1214.1M441.4 704.4V1214.1M748.8 704.4V1214.1M1056.3 704.4V1214.1M86.8 802.8H1120.0M86.8 919.5H1120.0M86.8 1036.1H1120.0M86.8 1152.8H1120.0" stroke="#fff" stroke-width="1.5" fill="none"/>
<path d="M134 1213.9v4.6M441.4 1213.9v4.6M748.8 1213.9v4.6M1056.3 1213.9v4.6M86.8 802.8h-5.0M86.8 919.5h-5.0M86.8 1036.1h-5.0M86.8 1152.8h-5.0" stroke="#333" stroke-width="1.6" fill="none"/>
<text class="tk" x="133.1" y="1235.7" text-anchor="middle" textLength="8" lengthAdjust="spacingAndGlyphs">0</text>
<text class="tk" x="440.5" y="1235.7" text-anchor="middle" textLength="8" lengthAdjust="spacingAndGlyphs">1</text>
<text class="tk" x="747.9" y="1235.7" text-anchor="middle" textLength="8" lengthAdjust="spacingAndGlyphs">2</text>
<text class="tk" x="1055.4" y="1235.7" text-anchor="middle" textLength="8" lengthAdjust="spacingAndGlyphs">3</text>
<text class="tk" x="77.2" y="809.2" text-anchor="end" textLength="28.2" lengthAdjust="spacingAndGlyphs">0.01</text>
<text class="tk" x="77.2" y="925.9" text-anchor="end" textLength="28.2" lengthAdjust="spacingAndGlyphs">0.00</text>
<text class="tk" x="77.2" y="1042.5" text-anchor="end" textLength="33.1" lengthAdjust="spacingAndGlyphs">-0.01</text>
<text class="tk" x="77.2" y="1159.2" text-anchor="end" textLength="33.1" lengthAdjust="spacingAndGlyphs">-0.02</text>
<text class="ax" x="604.5" y="1256.2" text-anchor="middle" textLength="72.5" lengthAdjust="spacingAndGlyphs">volatility</text>
<text class="ax" transform="translate(18.2 958.5) rotate(-90)" text-anchor="middle" textLength="142.6" lengthAdjust="spacingAndGlyphs">average_return</text>
<text class="tt" x="86.9" y="692" textLength="426.4" lengthAdjust="spacingAndGlyphs">Hist DAWass: Volatility-Mean return 2018-19</text>
<path d="M430.8 960.2L819.8 948.2L1073.9 1068.2Z" stroke="#F8766D" stroke-width="1.25" fill="none" stroke-linejoin="round"/>
<path d="M300 727.8L197.8 854L171.2 899L171.6 942L176 988L285.8 1191.1L315.5 926.9Z" stroke="#A3A500" stroke-width="1.25" fill="none" stroke-linejoin="round"/>
<path d="M133.8 918.1L306.3 839.9L354.6 839.9L467 884.5L257.5 1056L247.3 1048.6Z" stroke="#00BF7D" stroke-width="1.25" fill="none" stroke-linejoin="round"/>
<path d="M133.8 918.1L158 878L170 885L208.8 932.4L183.7 1029.8L163 1027.1Z" stroke="#00B0F6" stroke-width="1.25" fill="none" stroke-linejoin="round"/>
<path d="M395.8 795.7L584.5 959.2L446.5 1001.7L372 1014.1L317 998.5L325.5 951.5Z" stroke="#E76BF3" stroke-width="1.25" fill="none" stroke-linejoin="round"/>
<g><path d="M164.4 958.5H173M168.7 954.2V962.8" stroke="#00B0F6" stroke-width="1.25" fill="none"/><circle cx="1073.9" cy="1068.2" r="3.1" fill="#F8766D"/><path d="M201.2 923.3L204.8 929.3L197.7 929.3Z" fill="#A3A500"/><path d="M150.5 946.5H159.1M154.8 942.2V950.8" stroke="#00B0F6" stroke-width="1.25" fill="none"/><path d="M292.1 991.1L295.7 997.1L288.5 997.1Z" fill="#A3A500"/><path d="M165.7 960.8H174.3M170 956.5V965.1" stroke="#00B0F6" stroke-width="1.25" fill="none"/><path d="M218.3 979.5L221.9 985.5L214.7 985.5Z" fill="#A3A500"/><path d="M203.7 958.4L207.3 964.4L200.1 964.4Z" fill="#A3A500"/><circle cx="819.8" cy="948.2" r="3.1" fill="#F8766D"/><path d="M210.3 988.2L213.9 994.2L206.7 994.2Z" fill="#A3A500"/><path d="M178.7 926.2L182.3 932.2L175.1 932.2Z" fill="#A3A500"/><path d="M158.5 965.4H167.1M162.8 961.1V969.7" stroke="#00B0F6" stroke-width="1.25" fill="none"/><path d="M157 934.7H165.6M161.3 930.4V939" stroke="#00B0F6" stroke-width="1.25" fill="none"/><path d="M495.9 938.1H502.1V944.3H495.9ZM495.9 938.1L502.1 944.3M495.9 944.3L502.1 938.1" stroke="#E76BF3" stroke-width="1.05" fill="none"/><path d="M149.2 952.6H157.8M153.5 948.3V956.9" stroke="#00B0F6" stroke-width="1.25" fill="none"/><path d="M263 948.8L266.6 954.8L259.4 954.8Z" fill="#A3A500"/><path d="M155.1 939.4H163.7M159.4 935.1V943.7" stroke="#00B0F6" stroke-width="1.25" fill="none"/><path d="M216 891L219.6 897L212.4 897Z" fill="#A3A500"/><path d="M158.8 1018.3H167.4M163.1 1014V1022.6" stroke="#00B0F6" stroke-width="1.25" fill="none"/><path d="M152.4 984.5H161M156.7 980.2V988.8" stroke="#00B0F6" stroke-width="1.25" fill="none"/><path d="M151.1 967.1H159.7M155.4 962.8V971.4" stroke="#00B0F6" stroke-width="1.25" fill="none"/><path d="M164.9 981H173.5M169.2 976.7V985.3" stroke="#00B0F6" stroke-width="1.25" fill="none"/><path d="M138.7 906.4H147.3M143 902.1V910.7" stroke="#00B0F6" stroke-width="1.25" fill="none"/><path d="M149.6 944.5H158.2M153.9 940.2V948.8" stroke="#00B0F6" stroke-width="1.25" fill="none"/><path d="M161.6 947.4H170.2M165.9 943.1V951.7" stroke="#00B0F6" stroke-width="1.25" fill="none"/><path d="M153.9 994.7H162.5M158.2 990.4V999" stroke="#00B0F6" stroke-width="1.25" fill="none"/><path d="M147.7 903.5H156.3M152 899.2V907.8" stroke="#00B0F6" stroke-width="1.25" fill="none"/><path d="M443.4 998.6H449.6V1004.8H443.4ZM443.4 998.6L449.6 1004.8M443.4 1004.8L449.6 998.6" stroke="#E76BF3" stroke-width="1.05" fill="none"/><path d="M172.1 980.7H180.7M176.4 976.4V985" stroke="#00B0F6" stroke-width="1.25" fill="none"/><path d="M152.6 978.5H161.2M156.9 974.2V982.8" stroke="#00B0F6" stroke-width="1.25" fill="none"/><path d="M149.6 954H158.2M153.9 949.7V958.3" stroke="#00B0F6" stroke-width="1.25" fill="none"/><path d="M157.9 983.8H166.5M162.2 979.5V988.1" stroke="#00B0F6" stroke-width="1.25" fill="none"/><path d="M206.3 968.9L209.9 974.9L202.7 974.9Z" fill="#A3A500"/><path d="M159.3 934.2H167.9M163.6 929.9V938.5" stroke="#00B0F6" stroke-width="1.25" fill="none"/><path d="M170.3 932.2L173.9 938.2L166.7 938.2Z" fill="#A3A500"/><path d="M185.7 1007.5L189.3 1013.5L182.1 1013.5Z" fill="#A3A500"/><path d="M150.1 979.4H158.7M154.4 975.1V983.7" stroke="#00B0F6" stroke-width="1.25" fill="none"/><path d="M155.9 971.2H164.5M160.2 966.9V975.5" stroke="#00B0F6" stroke-width="1.25" fill="none"/><path d="M181.4 996.9H190M185.7 992.6V1001.2" stroke="#00B0F6" stroke-width="1.25" fill="none"/><path d="M312.5 918.7L316.1 924.7L308.9 924.7Z" fill="#A3A500"/><path d="M176.2 933H184.8M180.5 928.7V937.3" stroke="#00B0F6" stroke-width="1.25" fill="none"/><path d="M150.8 988H159.4M155.1 983.7V992.3" stroke="#00B0F6" stroke-width="1.25" fill="none"/><path d="M208.8 917.5L212.3 923.5L205.2 923.5Z" fill="#A3A500"/><rect x="253.9" y="1052.5" width="6.1" height="6.1" fill="#00BF7D"/><path d="M150 975H158.6M154.3 970.7V979.3" stroke="#00B0F6" stroke-width="1.25" fill="none"/><path d="M155.1 984.7H163.7M159.4 980.4V989" stroke="#00B0F6" stroke-width="1.25" fill="none"/><path d="M154.6 979H163.2M158.9 974.7V983.3" stroke="#00B0F6" stroke-width="1.25" fill="none"/><rect x="263.3" y="1011" width="6.1" height="6.1" fill="#00BF7D"/><path d="M169.9 956.2L173.5 962.2L166.3 962.2Z" fill="#A3A500"/><path d="M266.3 991.9L269.9 997.9L262.7 997.9Z" fill="#A3A500"/><path d="M159.1 1015.1H167.7M163.4 1010.8V1019.4" stroke="#00B0F6" stroke-width="1.25" fill="none"/><path d="M146 939.5H154.6M150.3 935.2V943.8" stroke="#00B0F6" stroke-width="1.25" fill="none"/><path d="M151.3 969.7H159.9M155.6 965.4V974" stroke="#00B0F6" stroke-width="1.25" fill="none"/><path d="M186.8 965.7H195.4M191.1 961.4V970" stroke="#00B0F6" stroke-width="1.25" fill="none"/><path d="M161 952.5H169.6M165.3 948.2V956.8" stroke="#00B0F6" stroke-width="1.25" fill="none"/><path d="M157 934.8H165.6M161.3 930.5V939.1" stroke="#00B0F6" stroke-width="1.25" fill="none"/><path d="M170 915.4L173.6 921.4L166.4 921.4Z" fill="#A3A500"/><path d="M158.7 967.4H167.3M163 963.1V971.7" stroke="#00B0F6" stroke-width="1.25" fill="none"/><path d="M154.4 983.3H163M158.7 979V987.6" stroke="#00B0F6" stroke-width="1.25" fill="none"/><path d="M158 983.1H166.6M162.3 978.8V987.4" stroke="#00B0F6" stroke-width="1.25" fill="none"/><path d="M203.7 996.7L207.3 1002.7L200.1 1002.7Z" fill="#A3A500"/><path d="M285.8 1187.1L289.4 1193.1L282.2 1193.1Z" fill="#A3A500"/><path d="M153.9 974.5H162.5M158.2 970.2V978.8" stroke="#00B0F6" stroke-width="1.25" fill="none"/><path d="M159.9 911.9H168.6M164.2 907.6V916.2" stroke="#00B0F6" stroke-width="1.25" fill="none"/><path d="M153.4 1006.9H162M157.7 1002.6V1011.2" stroke="#00B0F6" stroke-width="1.25" fill="none"/><path d="M152.7 951.1H161.3M157 946.8V955.4" stroke="#00B0F6" stroke-width="1.25" fill="none"/><path d="M156.4 972.6H165M160.7 968.3V976.9" stroke="#00B0F6" stroke-width="1.25" fill="none"/><path d="M148.1 909.9H156.7M152.4 905.6V914.2" stroke="#00B0F6" stroke-width="1.25" fill="none"/><rect x="256.3" y="992.6" width="6.1" height="6.1" fill="#00BF7D"/><path d="M238.8 823.3L242.3 829.3L235.2 829.3Z" fill="#A3A500"/><path d="M148.3 971.9H156.9M152.6 967.6V976.2" stroke="#00B0F6" stroke-width="1.25" fill="none"/><path d="M157.7 1011.4H166.3M162 1007.1V1015.7" stroke="#00B0F6" stroke-width="1.25" fill="none"/><path d="M147.9 930.4H156.5M152.2 926.1V934.7" stroke="#00B0F6" stroke-width="1.25" fill="none"/><path d="M160 1026.4H168.6M164.3 1022.1V1030.7" stroke="#00B0F6" stroke-width="1.25" fill="none"/><path d="M462.1 868.1H468.4V874.3H462.1ZM462.1 868.1L468.4 874.3M462.1 874.3L468.4 868.1" stroke="#E76BF3" stroke-width="1.05" fill="none"/><path d="M155.4 967.1H164M159.7 962.8V971.4" stroke="#00B0F6" stroke-width="1.25" fill="none"/><path d="M155.4 924.4H164M159.7 920.1V928.7" stroke="#00B0F6" stroke-width="1.25" fill="none"/><path d="M153.6 992.7H162.2M157.9 988.4V997" stroke="#00B0F6" stroke-width="1.25" fill="none"/><path d="M185.4 982.9H194M189.7 978.6V987.2" stroke="#00B0F6" stroke-width="1.25" fill="none"/><path d="M175 934.4L178.6 940.4L171.4 940.4Z" fill="#A3A500"/><path d="M245.7 963.1L249.3 969.1L242.1 969.1Z" fill="#A3A500"/><path d="M153.6 967.5H162.2M157.9 963.2V971.8" stroke="#00B0F6" stroke-width="1.25" fill="none"/><path d="M177.1 981.2H185.7M181.4 976.9V985.5" stroke="#00B0F6" stroke-width="1.25" fill="none"/><path d="M199.4 933.9H208.1M203.8 929.6V938.2" stroke="#00B0F6" stroke-width="1.25" fill="none"/><path d="M152 991.7H160.6M156.3 987.4V996" stroke="#00B0F6" stroke-width="1.25" fill="none"/><path d="M156.2 973.8H164.8M160.5 969.5V978.1" stroke="#00B0F6" stroke-width="1.25" fill="none"/><path d="M267.7 959.5L271.3 965.5L264.1 965.5Z" fill="#A3A500"/><path d="M158.1 968.7H166.7M162.4 964.4V973" stroke="#00B0F6" stroke-width="1.25" fill="none"/><path d="M154.9 941.1H163.5M159.2 936.8V945.4" stroke="#00B0F6" stroke-width="1.25" fill="none"/><path d="M156.2 952.4H164.8M160.5 948.1V956.7" stroke="#00B0F6" stroke-width="1.25" fill="none"/><path d="M155 960.8H163.6M159.3 956.5V965.1" stroke="#00B0F6" stroke-width="1.25" fill="none"/><path d="M147 963.6H155.6M151.3 959.3V967.9" stroke="#00B0F6" stroke-width="1.25" fill="none"/><path d="M145 953.1H153.6M149.3 948.8V957.4" stroke="#00B0F6" stroke-width="1.25" fill="none"/><rect x="286.9" y="940.6" width="6.1" height="6.1" fill="#00BF7D"/><path d="M207 922.4L210.6 928.4L203.4 928.4Z" fill="#A3A500"/><path d="M152.7 899.9H161.3M157 895.6V904.2" stroke="#00B0F6" stroke-width="1.25" fill="none"/><path d="M156.1 948.1H164.7M160.4 943.8V952.4" stroke="#00B0F6" stroke-width="1.25" fill="none"/><path d="M154 951.7H162.6M158.3 947.4V956" stroke="#00B0F6" stroke-width="1.25" fill="none"/><path d="M315.5 922.9L319.1 928.9L311.9 928.9Z" fill="#A3A500"/><path d="M225 960.2L228.6 966.2L221.4 966.2Z" fill="#A3A500"/><path d="M150.1 951.2H158.7M154.4 946.9V955.5" stroke="#00B0F6" stroke-width="1.25" fill="none"/><path d="M154 960.4H162.6M158.3 956.1V964.7" stroke="#00B0F6" stroke-width="1.25" fill="none"/><path d="M153.2 947.3H161.8M157.5 943V951.6" stroke="#00B0F6" stroke-width="1.25" fill="none"/><path d="M232.5 926L236.1 932L228.9 932Z" fill="#A3A500"/><path d="M161.8 972.3H170.4M166.1 968V976.6" stroke="#00B0F6" stroke-width="1.25" fill="none"/><path d="M157.3 940.3H165.9M161.6 936V944.6" stroke="#00B0F6" stroke-width="1.25" fill="none"/><path d="M152 945.3H160.6M156.3 941V949.6" stroke="#00B0F6" stroke-width="1.25" fill="none"/><path d="M141.9 927.3H150.6M146.2 923V931.6" stroke="#00B0F6" stroke-width="1.25" fill="none"/><path d="M368.9 1011H375.1V1017.2H368.9ZM368.9 1011L375.1 1017.2M368.9 1017.2L375.1 1011" stroke="#E76BF3" stroke-width="1.05" fill="none"/><path d="M179.7 1016.4L183.3 1022.4L176.1 1022.4Z" fill="#A3A500"/><path d="M210 942.4L213.6 948.4L206.4 948.4Z" fill="#A3A500"/><path d="M148.7 984H157.3M153 979.7V988.3" stroke="#00B0F6" stroke-width="1.25" fill="none"/><path d="M164.7 1009.3H173.3M169 1005V1013.6" stroke="#00B0F6" stroke-width="1.25" fill="none"/><path d="M145.1 963.1H153.7M149.4 958.8V967.4" stroke="#00B0F6" stroke-width="1.25" fill="none"/><rect x="302.7" y="836.2" width="6.1" height="6.1" fill="#00BF7D"/><path d="M205 981.1L208.6 987.1L201.4 987.1Z" fill="#A3A500"/><path d="M160.6 936.9H169.2M164.9 932.6V941.2" stroke="#00B0F6" stroke-width="1.25" fill="none"/><path d="M161.1 1018H169.7M165.4 1013.7V1022.3" stroke="#00B0F6" stroke-width="1.25" fill="none"/><path d="M160 1003.1H168.6M164.3 998.8V1007.4" stroke="#00B0F6" stroke-width="1.25" fill="none"/><path d="M151.2 984.6H159.8M155.5 980.3V988.9" stroke="#00B0F6" stroke-width="1.25" fill="none"/><path d="M154.9 968.9H163.5M159.2 964.6V973.2" stroke="#00B0F6" stroke-width="1.25" fill="none"/><path d="M156.7 956.4H165.3M161 952.1V960.7" stroke="#00B0F6" stroke-width="1.25" fill="none"/><path d="M184 980.3H192.6M188.3 976V984.6" stroke="#00B0F6" stroke-width="1.25" fill="none"/><path d="M155.4 970.2H164M159.7 965.9V974.5" stroke="#00B0F6" stroke-width="1.25" fill="none"/><path d="M300 723.8L303.6 729.8L296.4 729.8Z" fill="#A3A500"/><path d="M192.3 962L195.9 968L188.7 968Z" fill="#A3A500"/><path d="M169.4 935.5H178M173.7 931.2V939.8" stroke="#00B0F6" stroke-width="1.25" fill="none"/><path d="M181 962.9L184.6 968.9L177.4 968.9Z" fill="#A3A500"/><path d="M160.3 970H168.9M164.6 965.7V974.3" stroke="#00B0F6" stroke-width="1.25" fill="none"/><path d="M150.7 964.5H159.3M155 960.2V968.8" stroke="#00B0F6" stroke-width="1.25" fill="none"/><path d="M147.5 982.2H156.1M151.8 977.9V986.5" stroke="#00B0F6" stroke-width="1.25" fill="none"/><path d="M175.8 980.7L179.4 986.7L172.2 986.7Z" fill="#A3A500"/><path d="M149.4 964.9H158M153.7 960.6V969.2" stroke="#00B0F6" stroke-width="1.25" fill="none"/><path d="M163 935.7H171.6M167.3 931.4V940" stroke="#00B0F6" stroke-width="1.25" fill="none"/><path d="M161.7 952.7H170.3M166 948.4V957" stroke="#00B0F6" stroke-width="1.25" fill="none"/><path d="M152.7 936.2H161.3M157 931.9V940.5" stroke="#00B0F6" stroke-width="1.25" fill="none"/><path d="M163.4 951.1H172M167.7 946.8V955.4" stroke="#00B0F6" stroke-width="1.25" fill="none"/><path d="M186 937.2L189.6 943.2L182.4 943.2Z" fill="#A3A500"/><path d="M156.1 1001.6H164.7M160.4 997.3V1005.9" stroke="#00B0F6" stroke-width="1.25" fill="none"/><path d="M154.5 973.4H163.1M158.8 969.1V977.7" stroke="#00B0F6" stroke-width="1.25" fill="none"/><path d="M164.6 962.2H173.2M168.9 957.9V966.5" stroke="#00B0F6" stroke-width="1.25" fill="none"/><path d="M150.9 967.3H159.5M155.2 963V971.6" stroke="#00B0F6" stroke-width="1.25" fill="none"/><path d="M154.1 969H162.7M158.4 964.7V973.3" stroke="#00B0F6" stroke-width="1.25" fill="none"/><path d="M160 973.1H168.6M164.3 968.8V977.4" stroke="#00B0F6" stroke-width="1.25" fill="none"/><path d="M161.8 933.2H170.4M166.1 928.9V937.5" stroke="#00B0F6" stroke-width="1.25" fill="none"/><path d="M151.7 950.9H160.3M156 946.6V955.2" stroke="#00B0F6" stroke-width="1.25" fill="none"/><path d="M156.6 965.6H165.2M160.9 961.3V969.9" stroke="#00B0F6" stroke-width="1.25" fill="none"/><path d="M155.1 997.1H163.7M159.4 992.8V1001.4" stroke="#00B0F6" stroke-width="1.25" fill="none"/><path d="M174.1 982.3H182.7M178.4 978V986.6" stroke="#00B0F6" stroke-width="1.25" fill="none"/><path d="M146.3 926.9H154.9M150.6 922.6V931.2" stroke="#00B0F6" stroke-width="1.25" fill="none"/><path d="M163.9 966.5H172.5M168.2 962.2V970.8" stroke="#00B0F6" stroke-width="1.25" fill="none"/><path d="M216.2 940.8L219.8 946.8L212.7 946.8Z" fill="#A3A500"/><path d="M155.1 978.2H163.7M159.4 973.9V982.5" stroke="#00B0F6" stroke-width="1.25" fill="none"/><path d="M167.8 933H176.4M172.1 928.7V937.3" stroke="#00B0F6" stroke-width="1.25" fill="none"/><path d="M171.9 915.7H180.6M176.2 911.4V920" stroke="#00B0F6" stroke-width="1.25" fill="none"/><path d="M169.8 964.6L173.4 970.6L166.2 970.6Z" fill="#A3A500"/><path d="M151.5 985.3H160.1M155.8 981V989.6" stroke="#00B0F6" stroke-width="1.25" fill="none"/><path d="M151.5 946.7H160.1M155.8 942.4V951" stroke="#00B0F6" stroke-width="1.25" fill="none"/><path d="M152.3 970.6H160.9M156.6 966.3V974.9" stroke="#00B0F6" stroke-width="1.25" fill="none"/><path d="M149.3 987.1H157.9M153.6 982.8V991.4" stroke="#00B0F6" stroke-width="1.25" fill="none"/><path d="M236.2 947.5L239.8 953.5L232.7 953.5Z" fill="#A3A500"/><path d="M208.3 962.2L211.9 968.2L204.7 968.2Z" fill="#A3A500"/><path d="M152.6 976.1H161.2M156.9 971.8V980.4" stroke="#00B0F6" stroke-width="1.25" fill="none"/><path d="M161.4 965.6H170M165.7 961.3V969.9" stroke="#00B0F6" stroke-width="1.25" fill="none"/><path d="M438.9 920.4H445.1V926.6H438.9ZM438.9 920.4L445.1 926.6M438.9 926.6L445.1 920.4" stroke="#E76BF3" stroke-width="1.05" fill="none"/><path d="M191.7 939.8L195.3 945.8L188.1 945.8Z" fill="#A3A500"/><path d="M171.1 978.6H179.7M175.4 974.3V982.9" stroke="#00B0F6" stroke-width="1.25" fill="none"/><path d="M165.7 885H174.3M170 880.8V889.3" stroke="#00B0F6" stroke-width="1.25" fill="none"/><path d="M151.6 937.8H160.2M155.9 933.5V942.1" stroke="#00B0F6" stroke-width="1.25" fill="none"/><path d="M164.7 967.5H173.3M169 963.2V971.8" stroke="#00B0F6" stroke-width="1.25" fill="none"/><path d="M217.5 935.8L221.1 941.8L213.9 941.8Z" fill="#A3A500"/><path d="M228.3 959.1L231.9 965.1L224.7 965.1Z" fill="#A3A500"/><path d="M151.3 947.4H159.9M155.6 943.1V951.7" stroke="#00B0F6" stroke-width="1.25" fill="none"/><path d="M148.9 943.2H157.5M153.2 938.9V947.5" stroke="#00B0F6" stroke-width="1.25" fill="none"/><path d="M240 952L243.6 958L236.4 958Z" fill="#A3A500"/><path d="M147.3 934.4H155.9M151.6 930.1V938.7" stroke="#00B0F6" stroke-width="1.25" fill="none"/><rect x="242.9" y="1045" width="6.1" height="6.1" fill="#00BF7D"/><path d="M149 930.8H157.6M153.3 926.5V935.1" stroke="#00B0F6" stroke-width="1.25" fill="none"/><path d="M200 891L203.6 897L196.4 897Z" fill="#A3A500"/><path d="M322.4 948.4H328.6V954.6H322.4ZM322.4 948.4L328.6 954.6M322.4 954.6L328.6 948.4" stroke="#E76BF3" stroke-width="1.05" fill="none"/><path d="M159.4 992.2H168M163.7 987.9V996.5" stroke="#00B0F6" stroke-width="1.25" fill="none"/><path d="M217 981.8L220.6 987.8L213.4 987.8Z" fill="#A3A500"/><path d="M255.7 963.3L259.3 969.3L252.1 969.3Z" fill="#A3A500"/><path d="M165.2 942.1H173.8M169.5 937.8V946.4" stroke="#00B0F6" stroke-width="1.25" fill="none"/><path d="M147.8 961.3H156.4M152.1 957V965.6" stroke="#00B0F6" stroke-width="1.25" fill="none"/><path d="M144.7 924.4H153.3M149 920.1V928.7" stroke="#00B0F6" stroke-width="1.25" fill="none"/><path d="M158.6 950H167.2M162.9 945.7V954.3" stroke="#00B0F6" stroke-width="1.25" fill="none"/><path d="M406.9 935.9H413.1V942.1H406.9ZM406.9 935.9L413.1 942.1M406.9 942.1L413.1 935.9" stroke="#E76BF3" stroke-width="1.05" fill="none"/><path d="M230.5 1076.2L234.1 1082.2L226.9 1082.2Z" fill="#A3A500"/><path d="M150.8 986.9H159.4M155.1 982.6V991.2" stroke="#00B0F6" stroke-width="1.25" fill="none"/><path d="M175.8 967.6L179.4 973.6L172.2 973.6Z" fill="#A3A500"/><path d="M215.7 956.4L219.3 962.4L212.1 962.4Z" fill="#A3A500"/><path d="M170 973.8H178.6M174.3 969.5V978.1" stroke="#00B0F6" stroke-width="1.25" fill="none"/><path d="M156.1 937.8H164.7M160.4 933.5V942.1" stroke="#00B0F6" stroke-width="1.25" fill="none"/><path d="M392.6 792.6H398.9V798.8H392.6ZM392.6 792.6L398.9 798.8M392.6 798.8L398.9 792.6" stroke="#E76BF3" stroke-width="1.05" fill="none"/><path d="M226.2 937.4L229.8 943.4L222.7 943.4Z" fill="#A3A500"/><path d="M173.7 962.1H182.3M178 957.8V966.4" stroke="#00B0F6" stroke-width="1.25" fill="none"/><path d="M158.7 929.5H167.3M163 925.2V933.8" stroke="#00B0F6" stroke-width="1.25" fill="none"/><path d="M219.2 865.9L222.8 871.9L215.7 871.9Z" fill="#A3A500"/><path d="M151.4 928.9H160M155.7 924.6V933.2" stroke="#00B0F6" stroke-width="1.25" fill="none"/><path d="M150.4 952.2H159M154.7 947.9V956.5" stroke="#00B0F6" stroke-width="1.25" fill="none"/><path d="M187.3 961.4L190.9 967.4L183.7 967.4Z" fill="#A3A500"/><path d="M163.3 969.6H171.9M167.6 965.3V973.9" stroke="#00B0F6" stroke-width="1.25" fill="none"/><path d="M152 944.9H160.6M156.3 940.6V949.2" stroke="#00B0F6" stroke-width="1.25" fill="none"/><path d="M151.4 957.8H160M155.7 953.5V962.1" stroke="#00B0F6" stroke-width="1.25" fill="none"/><path d="M155 940.8H163.6M159.3 936.5V945.1" stroke="#00B0F6" stroke-width="1.25" fill="none"/><path d="M169.3 977.5L172.9 983.5L165.7 983.5Z" fill="#A3A500"/><path d="M165.4 927.9H174M169.7 923.6V932.2" stroke="#00B0F6" stroke-width="1.25" fill="none"/><path d="M161.3 995.7H169.9M165.6 991.4V1000" stroke="#00B0F6" stroke-width="1.25" fill="none"/><path d="M187.6 976.7H196.2M191.9 972.4V981" stroke="#00B0F6" stroke-width="1.25" fill="none"/><path d="M236.7 963.3L240.3 969.3L233.1 969.3Z" fill="#A3A500"/><path d="M160.7 962.2H169.3M165 957.9V966.5" stroke="#00B0F6" stroke-width="1.25" fill="none"/><path d="M152.3 989.3H160.9M156.6 985V993.6" stroke="#00B0F6" stroke-width="1.25" fill="none"/><path d="M147.1 960.5H155.7M151.4 956.2V964.8" stroke="#00B0F6" stroke-width="1.25" fill="none"/><path d="M156 990.2H164.6M160.3 985.9V994.5" stroke="#00B0F6" stroke-width="1.25" fill="none"/><path d="M152.4 940.6H161M156.7 936.3V944.9" stroke="#00B0F6" stroke-width="1.25" fill="none"/><path d="M148.8 963.5H157.4M153.1 959.2V967.8" stroke="#00B0F6" stroke-width="1.25" fill="none"/><path d="M147.5 970.3H156.1M151.8 966V974.6" stroke="#00B0F6" stroke-width="1.25" fill="none"/><path d="M159.6 944.2H168.2M163.9 939.9V948.5" stroke="#00B0F6" stroke-width="1.25" fill="none"/><path d="M148.7 950.4H157.3M153 946.1V954.7" stroke="#00B0F6" stroke-width="1.25" fill="none"/><path d="M151.8 952.6H160.4M156.1 948.3V956.9" stroke="#00B0F6" stroke-width="1.25" fill="none"/><path d="M171 988.2L174.6 994.2L167.4 994.2Z" fill="#A3A500"/><rect x="240.5" y="958.6" width="6.1" height="6.1" fill="#00BF7D"/><path d="M130.9 921.9H139.5M135.2 917.6V926.1" stroke="#00B0F6" stroke-width="1.25" fill="none"/><path d="M204.4 932.4H213.1M208.8 928.1V936.7" stroke="#00B0F6" stroke-width="1.25" fill="none"/><path d="M177.7 992.4L181.3 998.4L174.1 998.4Z" fill="#A3A500"/><path d="M157.3 966.1H165.9M161.6 961.8V970.4" stroke="#00B0F6" stroke-width="1.25" fill="none"/><path d="M172.5 934.8H181.1M176.8 930.5V939.1" stroke="#00B0F6" stroke-width="1.25" fill="none"/><path d="M147.8 944H156.4M152.1 939.7V948.3" stroke="#00B0F6" stroke-width="1.25" fill="none"/><path d="M194.7 964.2H203.3M199 959.9V968.5" stroke="#00B0F6" stroke-width="1.25" fill="none"/><path d="M195 931.7L198.6 937.7L191.4 937.7Z" fill="#A3A500"/><path d="M161.3 944.3H169.9M165.6 940V948.6" stroke="#00B0F6" stroke-width="1.25" fill="none"/><path d="M222 860.9L225.6 866.9L218.4 866.9Z" fill="#A3A500"/><path d="M161.9 960.5H170.5M166.2 956.2V964.8" stroke="#00B0F6" stroke-width="1.25" fill="none"/><path d="M161.5 931.1H170.1M165.8 926.8V935.4" stroke="#00B0F6" stroke-width="1.25" fill="none"/><path d="M146.5 933.7H155.1M150.8 929.4V938" stroke="#00B0F6" stroke-width="1.25" fill="none"/><path d="M173.7 956.7L177.3 962.7L170.1 962.7Z" fill="#A3A500"/><path d="M162 919.8H170.6M166.3 915.5V924.1" stroke="#00B0F6" stroke-width="1.25" fill="none"/><path d="M152.8 961.1H161.4M157.1 956.8V965.4" stroke="#00B0F6" stroke-width="1.25" fill="none"/><path d="M153 941.2H161.6M157.3 936.9V945.5" stroke="#00B0F6" stroke-width="1.25" fill="none"/><path d="M163.4 975.8H172M167.7 971.5V980.1" stroke="#00B0F6" stroke-width="1.25" fill="none"/><path d="M167.8 963.1H176.4M172.1 958.8V967.4" stroke="#00B0F6" stroke-width="1.25" fill="none"/><path d="M155 952.4H163.6M159.3 948.1V956.7" stroke="#00B0F6" stroke-width="1.25" fill="none"/><path d="M170.3 980.9L173.9 986.9L166.7 986.9Z" fill="#A3A500"/><rect x="198.5" y="896" width="6.1" height="6.1" fill="#00BF7D"/><path d="M221 927.2L224.6 933.2L217.4 933.2Z" fill="#A3A500"/><path d="M168.1 952.9H176.7M172.4 948.6V957.2" stroke="#00B0F6" stroke-width="1.25" fill="none"/><path d="M167 954H175.6M171.3 949.7V958.3" stroke="#00B0F6" stroke-width="1.25" fill="none"/><path d="M156 944.9H164.6M160.3 940.6V949.2" stroke="#00B0F6" stroke-width="1.25" fill="none"/><path d="M159.4 959.5H168M163.7 955.2V963.8" stroke="#00B0F6" stroke-width="1.25" fill="none"/><path d="M392.1 949.9H398.4V956.1H392.1ZM392.1 949.9L398.4 956.1M392.1 956.1L398.4 949.9" stroke="#E76BF3" stroke-width="1.05" fill="none"/><path d="M172.3 927.1L175.9 933.1L168.7 933.1Z" fill="#A3A500"/><path d="M148.5 966.5H157.1M152.8 962.2V970.8" stroke="#00B0F6" stroke-width="1.25" fill="none"/><path d="M195.7 983.5L199.3 989.5L192.1 989.5Z" fill="#A3A500"/><path d="M151 966.1H159.6M155.3 961.8V970.4" stroke="#00B0F6" stroke-width="1.25" fill="none"/><path d="M172.1 939.1L175.7 945.1L168.5 945.1Z" fill="#A3A500"/><path d="M161.8 984H170.4M166.1 979.7V988.3" stroke="#00B0F6" stroke-width="1.25" fill="none"/><path d="M148.7 981.3H157.3M153 977V985.6" stroke="#00B0F6" stroke-width="1.25" fill="none"/><path d="M150.8 946.6H159.4M155.1 942.3V950.9" stroke="#00B0F6" stroke-width="1.25" fill="none"/><rect x="227.3" y="1011" width="6.1" height="6.1" fill="#00BF7D"/><path d="M161.5 965.6H170.1M165.8 961.3V969.9" stroke="#00B0F6" stroke-width="1.25" fill="none"/><path d="M188.3 941.1L191.9 947.1L184.7 947.1Z" fill="#A3A500"/><path d="M161.5 980.6H170.1M165.8 976.3V984.9" stroke="#00B0F6" stroke-width="1.25" fill="none"/><path d="M184 953.5H192.6M188.3 949.2V957.8" stroke="#00B0F6" stroke-width="1.25" fill="none"/><path d="M148.8 951.1H157.4M153.1 946.8V955.4" stroke="#00B0F6" stroke-width="1.25" fill="none"/><path d="M149.9 980.9H158.5M154.2 976.6V985.2" stroke="#00B0F6" stroke-width="1.25" fill="none"/><path d="M203.7 940.2L207.3 946.2L200.1 946.2Z" fill="#A3A500"/><path d="M203 882.5L206.6 888.5L199.4 888.5Z" fill="#A3A500"/><path d="M156.4 970H165M160.7 965.7V974.3" stroke="#00B0F6" stroke-width="1.25" fill="none"/><path d="M166.1 961.5H174.7M170.4 957.2V965.8" stroke="#00B0F6" stroke-width="1.25" fill="none"/><path d="M211.4 1009.8L215 1015.8L207.8 1015.8Z" fill="#A3A500"/><path d="M232.3 973.8L235.9 979.8L228.7 979.8Z" fill="#A3A500"/><path d="M161.1 1018.3H169.7M165.4 1014V1022.6" stroke="#00B0F6" stroke-width="1.25" fill="none"/><path d="M149.7 965.8H158.3M154 961.5V970.1" stroke="#00B0F6" stroke-width="1.25" fill="none"/><path d="M156 1018.9H164.6M160.3 1014.6V1023.2" stroke="#00B0F6" stroke-width="1.25" fill="none"/><path d="M226.3 1040L229.9 1046L222.7 1046Z" fill="#A3A500"/><path d="M172 999.5H180.6M176.3 995.2V1003.8" stroke="#00B0F6" stroke-width="1.25" fill="none"/><path d="M145.4 945.8H154M149.7 941.5V950.1" stroke="#00B0F6" stroke-width="1.25" fill="none"/><path d="M202.3 1011.1L205.9 1017.1L198.7 1017.1Z" fill="#A3A500"/><path d="M150.8 936H159.4M155.1 931.7V940.3" stroke="#00B0F6" stroke-width="1.25" fill="none"/><path d="M173.4 961.8H182M177.7 957.5V966.1" stroke="#00B0F6" stroke-width="1.25" fill="none"/><path d="M156.1 994.5H164.7M160.4 990.2V998.8" stroke="#00B0F6" stroke-width="1.25" fill="none"/><path d="M144.7 934H153.3M149 929.7V938.3" stroke="#00B0F6" stroke-width="1.25" fill="none"/><path d="M189.5 907.5L193.1 913.5L185.9 913.5Z" fill="#A3A500"/><path d="M153.7 878H162.3M158 873.8V882.3" stroke="#00B0F6" stroke-width="1.25" fill="none"/><path d="M148.6 946.4H157.2M152.9 942.1V950.7" stroke="#00B0F6" stroke-width="1.25" fill="none"/><path d="M156 970.2H164.6M160.3 965.9V974.5" stroke="#00B0F6" stroke-width="1.25" fill="none"/><path d="M151.3 925.5H159.9M155.6 921.2V929.8" stroke="#00B0F6" stroke-width="1.25" fill="none"/><path d="M581.4 956.1H587.6V962.3H581.4ZM581.4 956.1L587.6 962.3M581.4 962.3L587.6 956.1" stroke="#E76BF3" stroke-width="1.05" fill="none"/><path d="M148.4 933.8H157M152.7 929.5V938.1" stroke="#00B0F6" stroke-width="1.25" fill="none"/><path d="M287.9 965.6L291.5 971.6L284.3 971.6Z" fill="#A3A500"/><path d="M175.7 916.9H184.3M180 912.6V921.2" stroke="#00B0F6" stroke-width="1.25" fill="none"/><path d="M158.3 971.7H166.9M162.6 967.4V976" stroke="#00B0F6" stroke-width="1.25" fill="none"/><path d="M154.4 971.1H163M158.7 966.8V975.4" stroke="#00B0F6" stroke-width="1.25" fill="none"/><path d="M147.1 964.3H155.7M151.4 960V968.6" stroke="#00B0F6" stroke-width="1.25" fill="none"/><path d="M163.4 972.4H172M167.7 968.1V976.7" stroke="#00B0F6" stroke-width="1.25" fill="none"/><path d="M171.2 969.8H179.8M175.5 965.5V974.1" stroke="#00B0F6" stroke-width="1.25" fill="none"/><rect x="351.2" y="836.2" width="6.1" height="6.1" fill="#00BF7D"/><path d="M153.8 964.5H162.4M158.1 960.2V968.8" stroke="#00B0F6" stroke-width="1.25" fill="none"/><path d="M161.4 942.5H170M165.7 938.2V946.8" stroke="#00B0F6" stroke-width="1.25" fill="none"/><path d="M179.4 1029.8H188M183.7 1025.5V1034.1" stroke="#00B0F6" stroke-width="1.25" fill="none"/><path d="M160.2 970.2H168.8M164.5 965.9V974.5" stroke="#00B0F6" stroke-width="1.25" fill="none"/><path d="M167.5 967.4H176.1M171.8 963.1V971.7" stroke="#00B0F6" stroke-width="1.25" fill="none"/><path d="M149 984.3H157.6M153.3 980V988.6" stroke="#00B0F6" stroke-width="1.25" fill="none"/><path d="M162.4 984.3H171M166.7 980V988.6" stroke="#00B0F6" stroke-width="1.25" fill="none"/><path d="M155.9 996.1H164.5M160.2 991.8V1000.4" stroke="#00B0F6" stroke-width="1.25" fill="none"/><path d="M181.1 969.9H189.7M185.4 965.6V974.2" stroke="#00B0F6" stroke-width="1.25" fill="none"/><path d="M222.3 980.4L225.9 986.4L218.7 986.4Z" fill="#A3A500"/><path d="M149 980.4H157.6M153.3 976.1V984.7" stroke="#00B0F6" stroke-width="1.25" fill="none"/><path d="M231.8 937.5L235.3 943.5L228.2 943.5Z" fill="#A3A500"/><path d="M156.5 949.7H165.1M160.8 945.4V954" stroke="#00B0F6" stroke-width="1.25" fill="none"/><path d="M179 963.7H187.6M183.3 959.4V968" stroke="#00B0F6" stroke-width="1.25" fill="none"/><path d="M162.9 962H171.5M167.2 957.7V966.3" stroke="#00B0F6" stroke-width="1.25" fill="none"/><path d="M150.4 952.9H159M154.7 948.6V957.2" stroke="#00B0F6" stroke-width="1.25" fill="none"/><path d="M150.3 935H158.9M154.6 930.7V939.3" stroke="#00B0F6" stroke-width="1.25" fill="none"/><path d="M181.4 924.4L185 930.4L177.8 930.4Z" fill="#A3A500"/><path d="M150.6 959.3H159.2M154.9 955V963.6" stroke="#00B0F6" stroke-width="1.25" fill="none"/><path d="M235 954.5L238.6 960.5L231.4 960.5Z" fill="#A3A500"/><path d="M271.2 1162.9L274.8 1168.9L267.6 1168.9Z" fill="#A3A500"/><path d="M166 976.4H174.6M170.3 972.1V980.7" stroke="#00B0F6" stroke-width="1.25" fill="none"/><path d="M301.7 1024.6L305.3 1030.6L298.1 1030.6Z" fill="#A3A500"/><path d="M180 974.9H188.6M184.3 970.6V979.2" stroke="#00B0F6" stroke-width="1.25" fill="none"/><path d="M195.3 968.9L198.9 974.9L191.7 974.9Z" fill="#A3A500"/><path d="M243.7 969.1L247.3 975.1L240.1 975.1Z" fill="#A3A500"/><path d="M156.2 961.8H164.8M160.5 957.5V966.1" stroke="#00B0F6" stroke-width="1.25" fill="none"/><path d="M175.4 1012.4H184M179.7 1008.1V1016.7" stroke="#00B0F6" stroke-width="1.25" fill="none"/><path d="M178.9 975L182.5 981L175.3 981Z" fill="#A3A500"/><path d="M160.7 938.9H169.3M165 934.6V943.2" stroke="#00B0F6" stroke-width="1.25" fill="none"/><path d="M282 892L285.6 898L278.4 898Z" fill="#A3A500"/><path d="M176.3 947.4L179.9 953.4L172.7 953.4Z" fill="#A3A500"/><path d="M148.9 966.2H157.5M153.2 961.9V970.5" stroke="#00B0F6" stroke-width="1.25" fill="none"/><path d="M280.8 940.5L284.4 946.5L277.1 946.5Z" fill="#A3A500"/><rect x="311.9" y="928.6" width="6.1" height="6.1" fill="#00BF7D"/><path d="M238 832.2L241.6 838.2L234.4 838.2Z" fill="#A3A500"/><path d="M160.7 985.8H169.3M165 981.5V990.1" stroke="#00B0F6" stroke-width="1.25" fill="none"/><path d="M150.3 965.1H158.9M154.6 960.8V969.4" stroke="#00B0F6" stroke-width="1.25" fill="none"/><path d="M178.3 937.1L181.9 943.1L174.7 943.1Z" fill="#A3A500"/><path d="M161.7 948.5H170.3M166 944.2V952.8" stroke="#00B0F6" stroke-width="1.25" fill="none"/><path d="M233 987.4L236.6 993.4L229.4 993.4Z" fill="#A3A500"/><path d="M160.6 1006.8H169.2M164.9 1002.5V1011.1" stroke="#00B0F6" stroke-width="1.25" fill="none"/><path d="M246.7 992L250.3 998L243.1 998Z" fill="#A3A500"/><path d="M149.5 982.9H158.1M153.8 978.6V987.2" stroke="#00B0F6" stroke-width="1.25" fill="none"/><path d="M197 949.1L200.6 955.1L193.4 955.1Z" fill="#A3A500"/><path d="M171.2 895L174.8 901L167.7 901Z" fill="#A3A500"/><path d="M147.8 974.8H156.4M152.1 970.5V979.1" stroke="#00B0F6" stroke-width="1.25" fill="none"/><path d="M153 990.3H161.6M157.3 986V994.6" stroke="#00B0F6" stroke-width="1.25" fill="none"/><path d="M163.9 896.4H172.6M168.2 892.1V900.7" stroke="#00B0F6" stroke-width="1.25" fill="none"/><path d="M253.2 947.5L256.9 953.5L249.7 953.5Z" fill="#A3A500"/><path d="M157 950.4H165.6M161.3 946.1V954.7" stroke="#00B0F6" stroke-width="1.25" fill="none"/><path d="M163.6 971.4H172.2M167.9 967.1V975.7" stroke="#00B0F6" stroke-width="1.25" fill="none"/><path d="M178 1017.8H186.6M182.3 1013.5V1022.1" stroke="#00B0F6" stroke-width="1.25" fill="none"/><path d="M257 872.9L260.6 878.9L253.4 878.9Z" fill="#A3A500"/><path d="M165.8 982.5H174.4M170.1 978.2V986.8" stroke="#00B0F6" stroke-width="1.25" fill="none"/><path d="M172.5 944H181.1M176.8 939.7V948.3" stroke="#00B0F6" stroke-width="1.25" fill="none"/><path d="M140.7 920H149.3M145 915.8V924.3" stroke="#00B0F6" stroke-width="1.25" fill="none"/><circle cx="430.8" cy="960.2" r="3.1" fill="#F8766D"/><path d="M236.2 932L239.8 938L232.7 938Z" fill="#A3A500"/><path d="M152.3 934.6H160.9M156.6 930.3V938.9" stroke="#00B0F6" stroke-width="1.25" fill="none"/><path d="M153.6 993.7H162.2M157.9 989.4V998" stroke="#00B0F6" stroke-width="1.25" fill="none"/><path d="M156.6 947.6H165.2M160.9 943.3V951.9" stroke="#00B0F6" stroke-width="1.25" fill="none"/><path d="M186.4 965L190 971L182.8 971Z" fill="#A3A500"/><path d="M224.5 947.9L228.1 953.9L220.9 953.9Z" fill="#A3A500"/><path d="M197.7 992.4L201.3 998.4L194.1 998.4Z" fill="#A3A500"/><path d="M255 975.1L258.6 981.1L251.4 981.1Z" fill="#A3A500"/><path d="M158.9 977.3H167.5M163.2 973V981.6" stroke="#00B0F6" stroke-width="1.25" fill="none"/><path d="M157 980.2H165.6M161.3 975.9V984.5" stroke="#00B0F6" stroke-width="1.25" fill="none"/><path d="M151.4 964.9H160M155.7 960.6V969.2" stroke="#00B0F6" stroke-width="1.25" fill="none"/><path d="M160.7 977.5H169.3M165 973.2V981.8" stroke="#00B0F6" stroke-width="1.25" fill="none"/><path d="M169.8 967.6L173.4 973.6L166.2 973.6Z" fill="#A3A500"/><rect x="248.9" y="936.6" width="6.1" height="6.1" fill="#00BF7D"/><path d="M157.4 931.7H166M161.7 927.4V936" stroke="#00B0F6" stroke-width="1.25" fill="none"/><path d="M151.1 928.9H159.7M155.4 924.6V933.2" stroke="#00B0F6" stroke-width="1.25" fill="none"/><path d="M145.8 930.8H154.4M150.1 926.5V935.1" stroke="#00B0F6" stroke-width="1.25" fill="none"/><path d="M161.1 991.1H169.7M165.4 986.8V995.4" stroke="#00B0F6" stroke-width="1.25" fill="none"/><path d="M155.8 975.3H164.4M160.1 971V979.6" stroke="#00B0F6" stroke-width="1.25" fill="none"/><path d="M184.7 969.5H193.3M189 965.2V973.8" stroke="#00B0F6" stroke-width="1.25" fill="none"/><path d="M148.6 963.7H157.2M152.9 959.4V968" stroke="#00B0F6" stroke-width="1.25" fill="none"/><path d="M171.3 963.1L174.9 969.1L167.7 969.1Z" fill="#A3A500"/><path d="M155.3 998.6H163.9M159.6 994.3V1002.9" stroke="#00B0F6" stroke-width="1.25" fill="none"/><path d="M239.7 992.2L243.3 998.2L236.1 998.2Z" fill="#A3A500"/><path d="M236.5 886L240.1 892L232.9 892Z" fill="#A3A500"/><path d="M152.5 965.6H161.1M156.8 961.3V969.9" stroke="#00B0F6" stroke-width="1.25" fill="none"/><path d="M313.9 995.4H320.1V1001.6H313.9ZM313.9 995.4L320.1 1001.6M313.9 1001.6L320.1 995.4" stroke="#E76BF3" stroke-width="1.05" fill="none"/><path d="M190.5 961.9L194.1 967.9L186.9 967.9Z" fill="#A3A500"/><path d="M161.2 985H169.8M165.5 980.7V989.3" stroke="#00B0F6" stroke-width="1.25" fill="none"/><path d="M160.6 943H169.2M164.9 938.7V947.3" stroke="#00B0F6" stroke-width="1.25" fill="none"/><path d="M154.9 959H163.5M159.2 954.7V963.3" stroke="#00B0F6" stroke-width="1.25" fill="none"/><path d="M153.2 944.3H161.8M157.5 940V948.6" stroke="#00B0F6" stroke-width="1.25" fill="none"/><path d="M515.6 924.4H521.9V930.6H515.6ZM515.6 924.4L521.9 930.6M515.6 930.6L521.9 924.4" stroke="#E76BF3" stroke-width="1.05" fill="none"/><path d="M157.9 938.5H166.5M162.2 934.2V942.8" stroke="#00B0F6" stroke-width="1.25" fill="none"/><path d="M146 933H154.6M150.3 928.7V937.3" stroke="#00B0F6" stroke-width="1.25" fill="none"/><path d="M160.1 938.7H168.7M164.4 934.4V943" stroke="#00B0F6" stroke-width="1.25" fill="none"/><path d="M182.3 939L185.9 945L178.7 945Z" fill="#A3A500"/><path d="M177.8 983.2H186.4M182.1 978.9V987.5" stroke="#00B0F6" stroke-width="1.25" fill="none"/><path d="M153.8 990.1H162.4M158.1 985.8V994.4" stroke="#00B0F6" stroke-width="1.25" fill="none"/><path d="M148.2 951.8H156.8M152.5 947.5V956.1" stroke="#00B0F6" stroke-width="1.25" fill="none"/><path d="M172.7 983H181.3M177 978.7V987.3" stroke="#00B0F6" stroke-width="1.25" fill="none"/><path d="M154.8 999.8H163.4M159.1 995.5V1004.1" stroke="#00B0F6" stroke-width="1.25" fill="none"/><path d="M154 978.2H162.6M158.3 973.9V982.5" stroke="#00B0F6" stroke-width="1.25" fill="none"/><path d="M143.8 926.8H152.4M148.1 922.5V931.1" stroke="#00B0F6" stroke-width="1.25" fill="none"/><path d="M213.7 951.1L217.3 957.1L210.1 957.1Z" fill="#A3A500"/><path d="M208.5 892L212.1 898L204.9 898Z" fill="#A3A500"/><path d="M179.2 922.8L182.8 928.8L175.7 928.8Z" fill="#A3A500"/><path d="M427.6 832.4H433.9V838.6H427.6ZM427.6 832.4L433.9 838.6M427.6 838.6L433.9 832.4" stroke="#E76BF3" stroke-width="1.05" fill="none"/><path d="M201.7 945.5L205.3 951.5L198.1 951.5Z" fill="#A3A500"/><path d="M152.9 936.7H161.5M157.2 932.4V941" stroke="#00B0F6" stroke-width="1.25" fill="none"/><path d="M159.1 945.6H167.7M163.4 941.3V949.9" stroke="#00B0F6" stroke-width="1.25" fill="none"/><path d="M150.7 964.8H159.3M155 960.5V969.1" stroke="#00B0F6" stroke-width="1.25" fill="none"/><path d="M165.2 928.4H173.8M169.5 924.1V932.7" stroke="#00B0F6" stroke-width="1.25" fill="none"/><path d="M158.8 954H167.4M163.1 949.7V958.3" stroke="#00B0F6" stroke-width="1.25" fill="none"/><path d="M169.9 978.4H178.5M174.2 974.1V982.7" stroke="#00B0F6" stroke-width="1.25" fill="none"/><path d="M155.6 967.6H164.2M159.9 963.3V971.9" stroke="#00B0F6" stroke-width="1.25" fill="none"/><path d="M149.6 934.8H158.2M153.9 930.5V939.1" stroke="#00B0F6" stroke-width="1.25" fill="none"/><path d="M171.6 957.8L175.2 963.8L168 963.8Z" fill="#A3A500"/><path d="M157.8 984.7H166.4M162.1 980.4V989" stroke="#00B0F6" stroke-width="1.25" fill="none"/><path d="M158.9 1010.9H167.5M163.2 1006.6V1015.2" stroke="#00B0F6" stroke-width="1.25" fill="none"/><path d="M219.7 977.1L223.3 983.1L216.1 983.1Z" fill="#A3A500"/><path d="M303.8 888.5L307.4 894.5L300.1 894.5Z" fill="#A3A500"/><path d="M147.7 983.6H156.3M152 979.3V987.9" stroke="#00B0F6" stroke-width="1.25" fill="none"/><path d="M263 1023.1L266.6 1029.1L259.4 1029.1Z" fill="#A3A500"/><path d="M209.2 896.9L212.8 902.9L205.7 902.9Z" fill="#A3A500"/><path d="M156.9 976.1H165.5M161.2 971.8V980.4" stroke="#00B0F6" stroke-width="1.25" fill="none"/><path d="M161.8 981H170.4M166.1 976.7V985.3" stroke="#00B0F6" stroke-width="1.25" fill="none"/><path d="M185.7 957.5L189.3 963.5L182.1 963.5Z" fill="#A3A500"/><path d="M213.8 912.9L217.3 918.9L210.2 918.9Z" fill="#A3A500"/><path d="M153.6 972.7H162.2M157.9 968.4V977" stroke="#00B0F6" stroke-width="1.25" fill="none"/><path d="M147.4 963.2H156M151.7 958.9V967.5" stroke="#00B0F6" stroke-width="1.25" fill="none"/><path d="M268.8 856L272.4 862L265.1 862Z" fill="#A3A500"/><path d="M146.7 979.4H155.3M151 975.1V983.7" stroke="#00B0F6" stroke-width="1.25" fill="none"/><path d="M153.3 933H161.9M157.6 928.7V937.3" stroke="#00B0F6" stroke-width="1.25" fill="none"/><path d="M150.3 940.1H158.9M154.6 935.8V944.4" stroke="#00B0F6" stroke-width="1.25" fill="none"/><path d="M170.4 965.4H179M174.7 961.1V969.7" stroke="#00B0F6" stroke-width="1.25" fill="none"/><path d="M147 982.1H155.6M151.3 977.8V986.4" stroke="#00B0F6" stroke-width="1.25" fill="none"/><path d="M159.4 923.1H168M163.7 918.8V927.4" stroke="#00B0F6" stroke-width="1.25" fill="none"/><path d="M209 965.5L212.6 971.5L205.4 971.5Z" fill="#A3A500"/><path d="M152.4 962H161M156.7 957.7V966.3" stroke="#00B0F6" stroke-width="1.25" fill="none"/><path d="M150.5 941.2H159.1M154.8 936.9V945.5" stroke="#00B0F6" stroke-width="1.25" fill="none"/><path d="M150.6 925.3H159.2M154.9 921V929.6" stroke="#00B0F6" stroke-width="1.25" fill="none"/><path d="M144.6 932.9H153.2M148.9 928.6V937.2" stroke="#00B0F6" stroke-width="1.25" fill="none"/><path d="M155.9 1000.5H164.5M160.2 996.2V1004.8" stroke="#00B0F6" stroke-width="1.25" fill="none"/><path d="M159.3 942.4H167.9M163.6 938.1V946.7" stroke="#00B0F6" stroke-width="1.25" fill="none"/><path d="M151.8 988.9H160.4M156.1 984.6V993.2" stroke="#00B0F6" stroke-width="1.25" fill="none"/><path d="M155.5 985H164.1M159.8 980.7V989.3" stroke="#00B0F6" stroke-width="1.25" fill="none"/><path d="M168 949.5H176.6M172.3 945.2V953.8" stroke="#00B0F6" stroke-width="1.25" fill="none"/><path d="M197.7 931.4L201.3 937.4L194.1 937.4Z" fill="#A3A500"/><path d="M150.2 931.3H158.8M154.5 927V935.6" stroke="#00B0F6" stroke-width="1.25" fill="none"/><path d="M203.7 965.8L207.3 971.8L200.1 971.8Z" fill="#A3A500"/><path d="M148.5 933.5H157.1M152.8 929.2V937.8" stroke="#00B0F6" stroke-width="1.25" fill="none"/><path d="M193.4 959.5L197 965.5L189.8 965.5Z" fill="#A3A500"/><path d="M197.8 850L201.3 856L194.2 856Z" fill="#A3A500"/><path d="M164.4 967.9H173M168.7 963.6V972.2" stroke="#00B0F6" stroke-width="1.25" fill="none"/><rect x="130.5" y="915" width="6.1" height="6.1" fill="#00BF7D"/><path d="M182 970.8H190.6M186.3 966.5V975.1" stroke="#00B0F6" stroke-width="1.25" fill="none"/><path d="M149.7 960.9H158.3M154 956.6V965.2" stroke="#00B0F6" stroke-width="1.25" fill="none"/><path d="M148.7 952.6H157.3M153 948.3V956.9" stroke="#00B0F6" stroke-width="1.25" fill="none"/><path d="M162.1 961.8H170.7M166.4 957.5V966.1" stroke="#00B0F6" stroke-width="1.25" fill="none"/><rect x="463.9" y="880.5" width="6.1" height="6.1" fill="#00BF7D"/><path d="M201.2 940.8L204.8 946.8L197.7 946.8Z" fill="#A3A500"/><path d="M169.9 927.5L173.5 933.5L166.3 933.5Z" fill="#A3A500"/><path d="M160.8 958.8H169.4M165.1 954.5V963.1" stroke="#00B0F6" stroke-width="1.25" fill="none"/><path d="M182.3 935.8L185.9 941.8L178.7 941.8Z" fill="#A3A500"/></g>
<circle cx="774" cy="992" r="5.2" fill="#F8766D"/>
<path d="M222 943.7L229.4 956.1L214.6 956.1Z" fill="#A3A500"/>
<path d="M220 975.7L227.4 988.1L212.6 988.1Z" fill="#A3A500"/>
<rect x="257.9" y="940.9" width="11.4" height="11.4" fill="#00BF7D"/>
<path d="M152.5 960H167.5M160 952.5V967.5" stroke="#00B0F6" stroke-width="1.25" fill="none"/>
<path d="M425.5 926.2H436.1V936.8H425.5ZM425.5 926.2L436.1 936.8M425.5 936.8L436.1 926.2" stroke="#E76BF3" stroke-width="1.1" fill="none"/>
<text class="lt" x="1146.6" y="893.2" textLength="53" lengthAdjust="spacingAndGlyphs">cluster</text>
<rect x="1148.3" y="904.5" width="26" height="25.8" fill="#F2F2F2" stroke="#F8766D" stroke-opacity="0.85" stroke-width="1.4"/>
<circle cx="1161.2" cy="917.8" r="5.6" fill="#F8766D"/>
<text class="ll" x="1183.3" y="923.9">1</text>
<rect x="1148.3" y="932.3" width="26" height="25.8" fill="#F2F2F2" stroke="#A3A500" stroke-opacity="0.85" stroke-width="1.4"/>
<path d="M1161.1 937L1168.6 949.2L1153.6 949.2Z" fill="#A3A500"/>
<text class="ll" x="1183.3" y="951.7">2</text>
<rect x="1148.3" y="960.2" width="26" height="25.8" fill="#F2F2F2" stroke="#00BF7D" stroke-opacity="0.85" stroke-width="1.4"/>
<rect x="1155.7" y="967.1" width="10.8" height="10.8" fill="#00BF7D"/>
<text class="ll" x="1183.3" y="979.6">3</text>
<rect x="1148.3" y="988" width="26" height="25.8" fill="#F2F2F2" stroke="#00B0F6" stroke-opacity="0.85" stroke-width="1.4"/>
<path d="M1153 1001.1H1169.6M1161.3 992.9V1009.3" stroke="#00B0F6" stroke-width="1.6" fill="none"/>
<text class="ll" x="1183.3" y="1007.4">4</text>
<rect x="1148.3" y="1015.9" width="26" height="25.8" fill="#F2F2F2" stroke="#E76BF3" stroke-opacity="0.85" stroke-width="1.4"/>
<path d="M1156 1023.8H1166.6V1034.3H1156ZM1156 1023.8L1166.6 1034.3M1156 1034.3L1166.6 1023.8" stroke="#E76BF3" stroke-width="1.5" fill="none"/>
<text class="ll" x="1183.3" y="1035.2">5</text>
<text class="cp" y="1298.8"><tspan x="397.8" textLength="39.6" lengthAdjust="spacingAndGlyphs">(b)</tspan><tspan x="440.4" textLength="384.9" lengthAdjust="spacingAndGlyphs"> Histogram DAWass clustering</tspan></text>
</g>
<g id="plot-tadpole">
<rect x="86.8" y="1380.8" width="1033.2" height="509.70000000000005" fill="#EBEBEB"/>
<path d="M287.7 1380.8V1890.5M595.1 1380.8V1890.5M902.6 1380.8V1890.5M86.8 1420.1H1120.0M86.8 1537.2H1120.0M86.8 1653.8H1120.0M86.8 1770.8H1120.0M86.8 1888.2H1120.0" stroke="#fff" stroke-opacity="0.75" stroke-width="0.9" fill="none"/>
<path d="M134 1380.8V1890.5M441.4 1380.8V1890.5M748.8 1380.8V1890.5M1056.3 1380.8V1890.5M86.8 1479.2H1120.0M86.8 1595.9H1120.0M86.8 1712.6H1120.0M86.8 1829.3H1120.0" stroke="#fff" stroke-width="1.5" fill="none"/>
<path d="M134 1890.3v4.6M441.4 1890.3v4.6M748.8 1890.3v4.6M1056.3 1890.3v4.6M86.8 1479.2h-5.0M86.8 1595.9h-5.0M86.8 1712.6h-5.0M86.8 1829.3h-5.0" stroke="#333" stroke-width="1.6" fill="none"/>
<text class="tk" x="133.1" y="1912.1" text-anchor="middle" textLength="8" lengthAdjust="spacingAndGlyphs">0</text>
<text class="tk" x="440.5" y="1912.1" text-anchor="middle" textLength="8" lengthAdjust="spacingAndGlyphs">1</text>
<text class="tk" x="747.9" y="1912.1" text-anchor="middle" textLength="8" lengthAdjust="spacingAndGlyphs">2</text>
<text class="tk" x="1055.4" y="1912.1" text-anchor="middle" textLength="8" lengthAdjust="spacingAndGlyphs">3</text>
<text class="tk" x="77.2" y="1485.6" text-anchor="end" textLength="28.2" lengthAdjust="spacingAndGlyphs">0.01</text>
<text class="tk" x="77.2" y="1602.3" text-anchor="end" textLength="28.2" lengthAdjust="spacingAndGlyphs">0.00</text>
<text class="tk" x="77.2" y="1719" text-anchor="end" textLength="33.1" lengthAdjust="spacingAndGlyphs">-0.01</text>
<text class="tk" x="77.2" y="1835.7" text-anchor="end" textLength="33.1" lengthAdjust="spacingAndGlyphs">-0.02</text>
<text class="ax" x="604.5" y="1932.7" text-anchor="middle" textLength="72.5" lengthAdjust="spacingAndGlyphs">volatility</text>
<text class="ax" transform="translate(18.2 1634.9) rotate(-90)" text-anchor="middle" textLength="142.6" lengthAdjust="spacingAndGlyphs">average_return</text>
<text class="tt" x="87.8" y="1368.4" textLength="384" lengthAdjust="spacingAndGlyphs">TADPole: Volatility-Mean return 2018-19</text>
<path d="M134.3 1595.9L158 1554.5L300 1404.2L395.8 1472.2L584.5 1635.7L285.8 1867.5L155.7 1681.4L145.5 1642.9Z" stroke="#F8766D" stroke-width="1.25" fill="none" stroke-linejoin="round"/>
<path d="M134.3 1595.9L157 1576.4L238 1512.7L430.8 1511.9L819.8 1624.7L1073.9 1744.7L226.3 1720.5L183.7 1706.2L163.7 1700.2L150 1652.9Z" stroke="#00BA38" stroke-width="1.25" fill="none" stroke-linejoin="round"/>
<path d="M152.4 1586.4L246.7 1672.5L257.5 1732.4L163 1690.9L149 1638.9Z" stroke="#619CFF" stroke-width="1.25" fill="none" stroke-linejoin="round"/>
<g><path d="M165.4 1690.8L169 1696.8L161.8 1696.8Z" fill="#00BA38"/><path d="M175.8 1644L179.4 1650L172.2 1650Z" fill="#00BA38"/><circle cx="263" cy="1629.2" r="3.1" fill="#F8766D"/><path d="M226.2 1613.9L229.8 1619.9L222.7 1619.9Z" fill="#00BA38"/><path d="M157.9 1639.9L161.5 1645.9L154.3 1645.9Z" fill="#00BA38"/><path d="M165.5 1657.5L169.1 1663.5L161.9 1663.5Z" fill="#00BA38"/><circle cx="153.5" cy="1629" r="3.1" fill="#F8766D"/><circle cx="159.7" cy="1643.5" r="3.1" fill="#F8766D"/><circle cx="152.5" cy="1628.3" r="3.1" fill="#F8766D"/><circle cx="163.7" cy="1668.7" r="3.1" fill="#F8766D"/><path d="M151.7 1635.6L155.3 1641.6L148.1 1641.6Z" fill="#00BA38"/><path d="M152.8 1639L156.4 1645L149.2 1645Z" fill="#00BA38"/><circle cx="156.3" cy="1668.2" r="3.1" fill="#F8766D"/><path d="M170 1633.2L173.6 1639.2L166.4 1639.2Z" fill="#00BA38"/><path d="M159.3 1613.2L162.9 1619.2L155.7 1619.2Z" fill="#00BA38"/><circle cx="175" cy="1614.9" r="3.1" fill="#F8766D"/><circle cx="170" cy="1561.5" r="3.1" fill="#F8766D"/><path d="M150.6 1599.4L154.2 1605.4L147 1605.4Z" fill="#00BA38"/><circle cx="154.6" cy="1611.5" r="3.1" fill="#F8766D"/><path d="M154.9 1597.7L158.5 1603.7L151.3 1603.7Z" fill="#00BA38"/><path d="M219.7 1653.6L223.3 1659.6L216.1 1659.6Z" fill="#00BA38"/><circle cx="158.3" cy="1654.7" r="3.1" fill="#F8766D"/><path d="M255 1651.6L258.6 1657.6L251.4 1657.6Z" fill="#00BA38"/><circle cx="190.5" cy="1642.3" r="3.1" fill="#F8766D"/><circle cx="149" cy="1610.5" r="3.1" fill="#F8766D"/><circle cx="173.7" cy="1612" r="3.1" fill="#F8766D"/><path d="M203.7 1634.9L207.3 1640.9L200.1 1640.9Z" fill="#00BA38"/><path d="M163.2 1649.8L166.8 1655.8L159.6 1655.8Z" fill="#00BA38"/><circle cx="159.6" cy="1675" r="3.1" fill="#F8766D"/><circle cx="201.7" cy="1626" r="3.1" fill="#F8766D"/><circle cx="155" cy="1640.9" r="3.1" fill="#F8766D"/><circle cx="188.3" cy="1630" r="3.1" fill="#F8766D"/><circle cx="160.5" cy="1628.9" r="3.1" fill="#F8766D"/><circle cx="325.5" cy="1628" r="3.1" fill="#F8766D"/><circle cx="162.2" cy="1660.2" r="3.1" fill="#F8766D"/><path d="M168.2 1568.9L171.8 1574.9L164.7 1574.9Z" fill="#00BA38"/><path d="M197.7 1668.9L201.3 1674.9L194.1 1674.9Z" fill="#00BA38"/><path d="M171.3 1626.5L174.9 1632.5L167.7 1632.5Z" fill="#00BA38"/><path d="M211.4 1686.2L215 1692.2L207.8 1692.2Z" fill="#00BA38"/><path d="M159.7 1596.9L163.3 1602.9L156.1 1602.9Z" fill="#00BA38"/><circle cx="182.1" cy="1659.7" r="3.1" fill="#F8766D"/><path d="M209.2 1573.4L212.8 1579.4L205.7 1579.4Z" fill="#00BA38"/><path d="M165.4 1690.5L169 1696.5L161.8 1696.5Z" fill="#00BA38"/><circle cx="216" cy="1571.5" r="3.1" fill="#F8766D"/><path d="M222 1537.4L225.6 1543.4L218.4 1543.4Z" fill="#00BA38"/><path d="M156.6 1661.7L160.2 1667.7L153 1667.7Z" fill="#00BA38"/><circle cx="167.7" cy="1652.2" r="3.1" fill="#F8766D"/><circle cx="158.7" cy="1659.8" r="3.1" fill="#F8766D"/><path d="M210 1618.9L213.6 1624.9L206.4 1624.9Z" fill="#00BA38"/><path d="M149 1596.9L152.6 1602.9L145.4 1602.9Z" fill="#00BA38"/><circle cx="161.6" cy="1642.5" r="3.1" fill="#F8766D"/><circle cx="152.6" cy="1648.3" r="3.1" fill="#F8766D"/><circle cx="159.3" cy="1637.2" r="3.1" fill="#F8766D"/><circle cx="156.1" cy="1629.1" r="3.1" fill="#F8766D"/><circle cx="165.7" cy="1642.1" r="3.1" fill="#F8766D"/><circle cx="195.3" cy="1649.3" r="3.1" fill="#F8766D"/><circle cx="161.7" cy="1608.2" r="3.1" fill="#F8766D"/><path d="M233 1663.8L236.6 1669.8L229.4 1669.8Z" fill="#00BA38"/><circle cx="154.3" cy="1651.5" r="3.1" fill="#F8766D"/><path d="M177.7 1668.9L181.3 1674.9L174.1 1674.9Z" fill="#00BA38"/><circle cx="162" cy="1687.9" r="3.1" fill="#F8766D"/><path d="M186.3 1643.3L189.9 1649.3L182.7 1649.3Z" fill="#00BA38"/><circle cx="160.1" cy="1651.8" r="3.1" fill="#F8766D"/><circle cx="156.1" cy="1665.4" r="3.1" fill="#F8766D"/><path d="M165.1 1631.3L168.7 1637.3L161.5 1637.3Z" fill="#00BA38"/><path d="M170 1591.9L173.6 1597.9L166.4 1597.9Z" fill="#00BA38"/><circle cx="155.7" cy="1641.3" r="3.1" fill="#F8766D"/><path d="M178.9 1651.5L182.5 1657.5L175.3 1657.5Z" fill="#00BA38"/><path d="M165.7 1614.9L169.3 1620.9L162.1 1620.9Z" fill="#00BA38"/><circle cx="171.3" cy="1643.5" r="3.1" fill="#F8766D"/><circle cx="354.6" cy="1516.3" r="3.1" fill="#F8766D"/><path d="M153.6 1659.5L157.2 1665.5L150 1665.5Z" fill="#00BA38"/><circle cx="189.5" cy="1588" r="3.1" fill="#F8766D"/><circle cx="153.7" cy="1641.4" r="3.1" fill="#F8766D"/><circle cx="303.8" cy="1569" r="3.1" fill="#F8766D"/><path d="M238 1508.6L241.6 1514.6L234.4 1514.6Z" fill="#00BA38"/><circle cx="267.7" cy="1691.7" r="3.1" fill="#F8766D"/><circle cx="518.8" cy="1603.9" r="3.1" fill="#F8766D"/><circle cx="163.6" cy="1610.7" r="3.1" fill="#F8766D"/><circle cx="240" cy="1632.5" r="3.1" fill="#F8766D"/><circle cx="315.8" cy="1608.8" r="3.1" fill="#F8766D"/><path d="M174.7 1637.8L178.3 1643.8L171.1 1643.8Z" fill="#00BA38"/><path d="M155.6 1619.9L159.2 1625.9L152 1625.9Z" fill="#00BA38"/><path d="M252.8 1612.9L256.4 1618.9L249.2 1618.9Z" fill="#00BA38"/><path d="M166 1625.1L169.6 1631.1L162.4 1631.1Z" fill="#00BA38"/><circle cx="172.3" cy="1626" r="3.1" fill="#F8766D"/><path d="M315.5 1599.4L319.1 1605.4L311.9 1605.4Z" fill="#00BA38"/><path d="M245.7 1639.6L249.3 1645.6L242.1 1645.6Z" fill="#00BA38"/><circle cx="155.9" cy="1614.2" r="3.1" fill="#F8766D"/><path d="M155.1 1659.3L158.7 1665.3L151.5 1665.3Z" fill="#00BA38"/><circle cx="165.8" cy="1607.6" r="3.1" fill="#F8766D"/><circle cx="156.7" cy="1638.4" r="3.1" fill="#F8766D"/><circle cx="157" cy="1612.7" r="3.1" fill="#F8766D"/><path d="M243.7 1645.6L247.3 1651.6L240.1 1651.6Z" fill="#00BA38"/><path d="M166.2 1633L169.8 1639L162.6 1639Z" fill="#00BA38"/><path d="M312.5 1595.1L316.1 1601.1L308.9 1601.1Z" fill="#00BA38"/><path d="M224.5 1624.4L228.1 1630.4L220.9 1630.4Z" fill="#00BA38"/><path d="M499 1613.6L502.6 1619.6L495.4 1619.6Z" fill="#00BA38"/><path d="M154.9 1631.8L158.5 1637.8L151.3 1637.8Z" fill="#00BA38"/><path d="M157.9 1666.2L161.5 1672.2L154.3 1672.2Z" fill="#00BA38"/><circle cx="584.5" cy="1635.7" r="3.1" fill="#F8766D"/><circle cx="159.7" cy="1646.7" r="3.1" fill="#F8766D"/><circle cx="158.2" cy="1671.1" r="3.1" fill="#F8766D"/><path d="M169.8 1644L173.4 1650L166.2 1650Z" fill="#00BA38"/><path d="M183.7 1702.2L187.3 1708.2L180.1 1708.2Z" fill="#00BA38"/><path d="M161.3 1607.2L164.9 1613.2L157.7 1613.2Z" fill="#00BA38"/><circle cx="206.3" cy="1649.3" r="3.1" fill="#F8766D"/><circle cx="148.1" cy="1603.3" r="3.1" fill="#F8766D"/><circle cx="152.1" cy="1651.3" r="3.1" fill="#F8766D"/><path d="M151.4 1633L155 1639L147.8 1639Z" fill="#00BA38"/><path d="M160.5 1646.2L164.1 1652.2L156.9 1652.2Z" fill="#00BA38"/><path d="M166.7 1656.7L170.3 1662.7L163.1 1662.7Z" fill="#00BA38"/><circle cx="218.3" cy="1660" r="3.1" fill="#F8766D"/><circle cx="163" cy="1606" r="3.1" fill="#F8766D"/><circle cx="149.3" cy="1629.6" r="3.1" fill="#F8766D"/><circle cx="151.8" cy="1658.7" r="3.1" fill="#F8766D"/><path d="M185.4 1642.3L189 1648.3L181.8 1648.3Z" fill="#00BA38"/><path d="M166 1620.9L169.6 1626.9L162.4 1626.9Z" fill="#00BA38"/><path d="M143 1578.9L146.6 1584.9L139.4 1584.9Z" fill="#00BA38"/><path d="M157.3 1613.6L160.9 1619.6L153.7 1619.6Z" fill="#00BA38"/><circle cx="236.2" cy="1628" r="3.1" fill="#F8766D"/><circle cx="154.8" cy="1617.7" r="3.1" fill="#F8766D"/><path d="M195 1608.1L198.6 1614.1L191.4 1614.1Z" fill="#00BA38"/><circle cx="154.7" cy="1628.7" r="3.1" fill="#F8766D"/><path d="M164.4 1611.2L168 1617.2L160.8 1617.2Z" fill="#00BA38"/><path d="M159.2 1613.5L162.8 1619.5L155.6 1619.5Z" fill="#00BA38"/><circle cx="160.2" cy="1672.6" r="3.1" fill="#F8766D"/><circle cx="165.8" cy="1642" r="3.1" fill="#F8766D"/><path d="M203.7 1673.2L207.3 1679.2L200.1 1679.2Z" fill="#00BA38"/><path d="M1073.9 1740.6L1077.5 1746.6L1070.3 1746.6Z" fill="#00BA38"/><circle cx="162.8" cy="1641.9" r="3.1" fill="#F8766D"/><circle cx="159.4" cy="1661.2" r="3.1" fill="#F8766D"/><path d="M222.3 1656.9L225.9 1662.9L218.7 1662.9Z" fill="#00BA38"/><circle cx="166.1" cy="1609.7" r="3.1" fill="#F8766D"/><path d="M159.8 1657.4L163.4 1663.4L156.2 1663.4Z" fill="#00BA38"/><circle cx="167.3" cy="1612.2" r="3.1" fill="#F8766D"/><path d="M158.7 1643.6L162.3 1649.6L155.1 1649.6Z" fill="#00BA38"/><path d="M156 1623.3L159.6 1629.3L152.4 1629.3Z" fill="#00BA38"/><path d="M259 1668.6L262.6 1674.6L255.4 1674.6Z" fill="#00BA38"/><circle cx="160.4" cy="1670.9" r="3.1" fill="#F8766D"/><path d="M166.1 1653.4L169.7 1659.4L162.5 1659.4Z" fill="#00BA38"/><path d="M166.1 1656.4L169.7 1662.4L162.5 1662.4Z" fill="#00BA38"/><circle cx="171.6" cy="1638.2" r="3.1" fill="#F8766D"/><path d="M175.8 1657.1L179.4 1663.1L172.2 1663.1Z" fill="#00BA38"/><circle cx="191.9" cy="1653.2" r="3.1" fill="#F8766D"/><circle cx="150.3" cy="1616" r="3.1" fill="#F8766D"/><circle cx="180.5" cy="1609.4" r="3.1" fill="#F8766D"/><circle cx="155.3" cy="1642.6" r="3.1" fill="#F8766D"/><circle cx="230.3" cy="1691.7" r="3.1" fill="#F8766D"/><circle cx="151.4" cy="1640.7" r="3.1" fill="#F8766D"/><path d="M165.6 1668.2L169.2 1674.2L162 1674.2Z" fill="#00BA38"/><circle cx="162.4" cy="1645.2" r="3.1" fill="#F8766D"/><circle cx="160.3" cy="1646.7" r="3.1" fill="#F8766D"/><circle cx="266.3" cy="1672.4" r="3.1" fill="#F8766D"/><path d="M153.9 1626.5L157.5 1632.5L150.3 1632.5Z" fill="#00BA38"/><path d="M197.7 1607.8L201.3 1613.8L194.1 1613.8Z" fill="#00BA38"/><circle cx="156.7" cy="1617" r="3.1" fill="#F8766D"/><circle cx="164.3" cy="1649.5" r="3.1" fill="#F8766D"/><circle cx="160.2" cy="1677" r="3.1" fill="#F8766D"/><circle cx="179.2" cy="1603.2" r="3.1" fill="#F8766D"/><path d="M191.7 1616.2L195.3 1622.2L188.1 1622.2Z" fill="#00BA38"/><path d="M169.9 1632.7L173.5 1638.7L166.3 1638.7Z" fill="#00BA38"/><circle cx="171.8" cy="1643.8" r="3.1" fill="#F8766D"/><circle cx="161.2" cy="1652.6" r="3.1" fill="#F8766D"/><circle cx="145" cy="1596.5" r="3.1" fill="#F8766D"/><circle cx="203" cy="1563" r="3.1" fill="#F8766D"/><path d="M155.6 1642.1L159.2 1648.1L152 1648.1Z" fill="#00BA38"/><circle cx="159.3" cy="1628.8" r="3.1" fill="#F8766D"/><path d="M178.3 1613.6L181.9 1619.6L174.7 1619.6Z" fill="#00BA38"/><path d="M257 1549.4L260.6 1555.4L253.4 1555.4Z" fill="#00BA38"/><circle cx="191.1" cy="1642.2" r="3.1" fill="#F8766D"/><path d="M169.5 1600.8L173.1 1606.8L165.9 1606.8Z" fill="#00BA38"/><circle cx="442" cy="1599.9" r="3.1" fill="#F8766D"/><circle cx="410" cy="1615.4" r="3.1" fill="#F8766D"/><circle cx="151.3" cy="1640" r="3.1" fill="#F8766D"/><path d="M158.8 1645.8L162.4 1651.8L155.2 1651.8Z" fill="#00BA38"/><circle cx="467" cy="1560.9" r="3.1" fill="#F8766D"/><circle cx="163.7" cy="1636" r="3.1" fill="#F8766D"/><circle cx="160.8" cy="1626.2" r="3.1" fill="#F8766D"/><path d="M151.8 1642.8L155.4 1648.8L148.2 1648.8Z" fill="#00BA38"/><path d="M176.3 1623.9L179.9 1629.9L172.7 1629.9Z" fill="#00BA38"/><circle cx="268.8" cy="1536.5" r="3.1" fill="#F8766D"/><path d="M161.3 1607.2L164.9 1613.2L157.7 1613.2Z" fill="#00BA38"/><circle cx="213.7" cy="1631.6" r="3.1" fill="#F8766D"/><path d="M149.7 1618.2L153.3 1624.2L146.1 1624.2Z" fill="#00BA38"/><circle cx="159.2" cy="1645.4" r="3.1" fill="#F8766D"/><circle cx="151.3" cy="1658.5" r="3.1" fill="#F8766D"/><circle cx="209" cy="1646" r="3.1" fill="#F8766D"/><path d="M155.8 1657.7L159.4 1663.7L152.2 1663.7Z" fill="#00BA38"/><circle cx="287.9" cy="1646" r="3.1" fill="#F8766D"/><circle cx="176.8" cy="1620.4" r="3.1" fill="#F8766D"/><circle cx="155" cy="1641.3" r="3.1" fill="#F8766D"/><path d="M162.3 1655.6L165.9 1661.6L158.7 1661.6Z" fill="#00BA38"/><path d="M221 1603.6L224.6 1609.6L217.4 1609.6Z" fill="#00BA38"/><circle cx="153" cy="1660.5" r="3.1" fill="#F8766D"/><path d="M153.1 1623.6L156.7 1629.6L149.5 1629.6Z" fill="#00BA38"/><circle cx="161.6" cy="1616.7" r="3.1" fill="#F8766D"/><path d="M160.4 1610.3L164 1616.3L156.8 1616.3Z" fill="#00BA38"/><path d="M202 1572.4L205.6 1578.4L198.4 1578.4Z" fill="#00BA38"/><path d="M446.5 1674.1L450.1 1680.1L442.9 1680.1Z" fill="#00BA38"/><circle cx="150.8" cy="1610.2" r="3.1" fill="#F8766D"/><path d="M188.3 1617.6L191.9 1623.6L184.7 1623.6Z" fill="#00BA38"/><path d="M154.5 1603.7L158.1 1609.7L150.9 1609.7Z" fill="#00BA38"/><circle cx="217.5" cy="1616.2" r="3.1" fill="#F8766D"/><path d="M207 1598.9L210.6 1604.9L203.4 1604.9Z" fill="#00BA38"/><circle cx="153.3" cy="1656.8" r="3.1" fill="#F8766D"/><path d="M181.4 1653.7L185 1659.7L177.8 1659.7Z" fill="#00BA38"/><path d="M203.7 1642.2L207.3 1648.2L200.1 1648.2Z" fill="#00BA38"/><circle cx="167.9" cy="1647.8" r="3.1" fill="#F8766D"/><circle cx="154.6" cy="1641.6" r="3.1" fill="#F8766D"/><path d="M166.3 1592.2L169.9 1598.2L162.7 1598.2Z" fill="#00BA38"/><circle cx="152.9" cy="1622.9" r="3.1" fill="#F8766D"/><circle cx="232.5" cy="1606.5" r="3.1" fill="#F8766D"/><path d="M172.1 1605.5L175.7 1611.5L168.5 1611.5Z" fill="#00BA38"/><path d="M158.3 1624.1L161.9 1630.1L154.7 1630.1Z" fill="#00BA38"/><circle cx="153" cy="1657.7" r="3.1" fill="#F8766D"/><circle cx="158.1" cy="1641" r="3.1" fill="#F8766D"/><path d="M152.1 1633.8L155.7 1639.8L148.5 1639.8Z" fill="#00BA38"/><circle cx="160.3" cy="1666.7" r="3.1" fill="#F8766D"/><circle cx="156.9" cy="1652.6" r="3.1" fill="#F8766D"/><circle cx="185.7" cy="1673.3" r="3.1" fill="#F8766D"/><circle cx="165.9" cy="1623.8" r="3.1" fill="#F8766D"/><circle cx="159.4" cy="1615.8" r="3.1" fill="#F8766D"/><circle cx="317" cy="1674.9" r="3.1" fill="#F8766D"/><circle cx="153.1" cy="1640" r="3.1" fill="#F8766D"/><circle cx="169.5" cy="1618.6" r="3.1" fill="#F8766D"/><circle cx="255.7" cy="1643.7" r="3.1" fill="#F8766D"/><path d="M163.7 1595.6L167.3 1601.6L160.1 1601.6Z" fill="#00BA38"/><circle cx="235" cy="1634.9" r="3.1" fill="#F8766D"/><path d="M159.2 1631.4L162.8 1637.4L155.6 1637.4Z" fill="#00BA38"/><circle cx="189" cy="1646" r="3.1" fill="#F8766D"/><circle cx="178.4" cy="1658.7" r="3.1" fill="#F8766D"/><circle cx="153.9" cy="1611.2" r="3.1" fill="#F8766D"/><path d="M150.1 1603.3L153.7 1609.3L146.5 1609.3Z" fill="#00BA38"/><path d="M166.4 1634.3L170 1640.3L162.8 1640.3Z" fill="#00BA38"/><circle cx="183.3" cy="1640.1" r="3.1" fill="#F8766D"/><circle cx="163.1" cy="1630.5" r="3.1" fill="#F8766D"/><path d="M168.7 1631L172.3 1637L165.1 1637Z" fill="#00BA38"/><circle cx="154.7" cy="1629.4" r="3.1" fill="#F8766D"/><circle cx="171" cy="1668.7" r="3.1" fill="#F8766D"/><path d="M153 1625L156.6 1631L149.4 1631Z" fill="#00BA38"/><circle cx="156.3" cy="1621.7" r="3.1" fill="#F8766D"/><circle cx="164.9" cy="1683.3" r="3.1" fill="#F8766D"/><path d="M159.9 1640L163.5 1646L156.3 1646Z" fill="#00BA38"/><circle cx="164.5" cy="1646.7" r="3.1" fill="#F8766D"/><path d="M150.3 1605.4L153.9 1611.4L146.7 1611.4Z" fill="#00BA38"/><path d="M163.4 1618L167 1624L159.8 1624Z" fill="#00BA38"/><path d="M167.7 1623.6L171.3 1629.6L164.1 1629.6Z" fill="#00BA38"/><circle cx="172.3" cy="1607.6" r="3.1" fill="#F8766D"/><circle cx="192.3" cy="1642.4" r="3.1" fill="#F8766D"/><path d="M226.3 1716.5L229.9 1722.5L222.7 1722.5Z" fill="#00BA38"/><path d="M156.6 1643L160.2 1649L153 1649Z" fill="#00BA38"/><circle cx="200" cy="1571.5" r="3.1" fill="#F8766D"/><circle cx="247.3" cy="1725.1" r="3.1" fill="#F8766D"/><path d="M213.8 1589.4L217.3 1595.4L210.2 1595.4Z" fill="#00BA38"/><circle cx="153.3" cy="1660.8" r="3.1" fill="#F8766D"/><path d="M157.5 1619.7L161.1 1625.7L153.9 1625.7Z" fill="#00BA38"/><circle cx="154.8" cy="1622.9" r="3.1" fill="#F8766D"/><path d="M217 1658.2L220.6 1664.2L213.4 1664.2Z" fill="#00BA38"/><circle cx="153.3" cy="1607.2" r="3.1" fill="#F8766D"/><circle cx="236.2" cy="1612.5" r="3.1" fill="#F8766D"/><circle cx="160.7" cy="1649" r="3.1" fill="#F8766D"/><circle cx="158.4" cy="1645.4" r="3.1" fill="#F8766D"/><path d="M163.9 1616.6L167.5 1622.6L160.3 1622.6Z" fill="#00BA38"/><circle cx="169" cy="1685.7" r="3.1" fill="#F8766D"/><circle cx="197" cy="1629.6" r="3.1" fill="#F8766D"/><circle cx="163.1" cy="1694.7" r="3.1" fill="#F8766D"/><path d="M168.2 1638.9L171.8 1644.9L164.6 1644.9Z" fill="#00BA38"/><circle cx="155.5" cy="1661.1" r="3.1" fill="#F8766D"/><path d="M159.4 1669.5L163 1675.5L155.8 1675.5Z" fill="#00BA38"/><path d="M179.7 1684.9L183.3 1690.9L176.1 1690.9Z" fill="#00BA38"/><path d="M205 1657.6L208.6 1663.6L201.4 1663.6Z" fill="#00BA38"/><circle cx="172.4" cy="1629.3" r="3.1" fill="#F8766D"/><path d="M161.3 1652.7L164.9 1658.7L157.7 1658.7Z" fill="#00BA38"/><circle cx="165.3" cy="1628.9" r="3.1" fill="#F8766D"/><circle cx="153.2" cy="1619.6" r="3.1" fill="#F8766D"/><circle cx="154.6" cy="1616.6" r="3.1" fill="#F8766D"/><path d="M155.4 1601.4L159 1607.4L151.8 1607.4Z" fill="#00BA38"/><circle cx="162.9" cy="1626.5" r="3.1" fill="#F8766D"/><circle cx="267.7" cy="1640" r="3.1" fill="#F8766D"/><path d="M182.3 1690.2L185.9 1696.2L178.7 1696.2Z" fill="#00BA38"/><path d="M168.9 1634.6L172.5 1640.6L165.3 1640.6Z" fill="#00BA38"/><path d="M180 1589.4L183.6 1595.4L176.4 1595.4Z" fill="#00BA38"/><circle cx="173.7" cy="1637.2" r="3.1" fill="#F8766D"/><circle cx="157.9" cy="1669.2" r="3.1" fill="#F8766D"/><path d="M155.1 1619L158.7 1625L151.5 1625Z" fill="#00BA38"/><circle cx="170.3" cy="1661.3" r="3.1" fill="#F8766D"/><path d="M290 1615.6L293.6 1621.6L286.4 1621.6Z" fill="#00BA38"/><path d="M153 1622.8L156.6 1628.8L149.4 1628.8Z" fill="#00BA38"/><circle cx="165.8" cy="1657" r="3.1" fill="#F8766D"/><circle cx="155.6" cy="1601.9" r="3.1" fill="#F8766D"/><circle cx="201.2" cy="1621.2" r="3.1" fill="#F8766D"/><circle cx="165" cy="1653.9" r="3.1" fill="#F8766D"/><path d="M292.1 1667.6L295.7 1673.6L288.5 1673.6Z" fill="#00BA38"/><circle cx="164.9" cy="1613.3" r="3.1" fill="#F8766D"/><path d="M168.7 1640.3L172.3 1646.3L165.1 1646.3Z" fill="#00BA38"/><path d="M164.2 1584.4L167.8 1590.4L160.7 1590.4Z" fill="#00BA38"/><circle cx="188.3" cy="1656.7" r="3.1" fill="#F8766D"/><circle cx="182.3" cy="1619.5" r="3.1" fill="#F8766D"/><circle cx="155.1" cy="1612.5" r="3.1" fill="#F8766D"/><path d="M177 1655.5L180.6 1661.5L173.4 1661.5Z" fill="#00BA38"/><circle cx="175.5" cy="1646.3" r="3.1" fill="#F8766D"/><circle cx="162.1" cy="1661.1" r="3.1" fill="#F8766D"/><path d="M182.3 1612.2L185.9 1618.2L178.7 1618.2Z" fill="#00BA38"/><circle cx="282" cy="1572.5" r="3.1" fill="#F8766D"/><path d="M160.3 1617.3L163.9 1623.3L156.7 1623.3Z" fill="#00BA38"/><path d="M157.5 1616.8L161.1 1622.8L153.9 1622.8Z" fill="#00BA38"/><circle cx="153.2" cy="1642.7" r="3.1" fill="#F8766D"/><circle cx="201.2" cy="1603.8" r="3.1" fill="#F8766D"/><path d="M157 1572.4L160.6 1578.4L153.4 1578.4Z" fill="#00BA38"/><circle cx="181" cy="1643.3" r="3.1" fill="#F8766D"/><circle cx="156.6" cy="1611" r="3.1" fill="#F8766D"/><circle cx="160.4" cy="1678.1" r="3.1" fill="#F8766D"/><circle cx="208.3" cy="1642.7" r="3.1" fill="#F8766D"/><circle cx="174.2" cy="1654.8" r="3.1" fill="#F8766D"/><circle cx="146.2" cy="1603.8" r="3.1" fill="#F8766D"/><circle cx="160.7" cy="1646.4" r="3.1" fill="#F8766D"/><circle cx="163" cy="1643.8" r="3.1" fill="#F8766D"/><path d="M155.7 1630.2L159.3 1636.2L152.1 1636.2Z" fill="#00BA38"/><path d="M174.3 1646.2L177.9 1652.2L170.7 1652.2Z" fill="#00BA38"/><path d="M203.8 1606.4L207.3 1612.4L200.2 1612.4Z" fill="#00BA38"/><path d="M151.6 1606.9L155.2 1612.9L148 1612.9Z" fill="#00BA38"/><path d="M210.3 1664.6L213.9 1670.6L206.7 1670.6Z" fill="#00BA38"/><circle cx="154.2" cy="1657.3" r="3.1" fill="#F8766D"/><circle cx="225" cy="1640.7" r="3.1" fill="#F8766D"/><circle cx="285.8" cy="1867.5" r="3.1" fill="#F8766D"/><path d="M160.5 1634.3L164.1 1640.3L156.9 1640.3Z" fill="#00BA38"/><circle cx="169.3" cy="1657.9" r="3.1" fill="#F8766D"/><path d="M372 1686.6L375.6 1692.6L368.4 1692.6Z" fill="#00BA38"/><circle cx="156.3" cy="1621.3" r="3.1" fill="#F8766D"/><path d="M208.8 1604.9L212.3 1610.9L205.2 1610.9Z" fill="#00BA38"/><circle cx="135.2" cy="1598.3" r="3.1" fill="#F8766D"/><circle cx="208.5" cy="1572.5" r="3.1" fill="#F8766D"/><path d="M179.7 1692.9L183.3 1698.9L176.1 1698.9Z" fill="#00BA38"/><circle cx="465.2" cy="1547.7" r="3.1" fill="#F8766D"/><circle cx="158.2" cy="1650.9" r="3.1" fill="#F8766D"/><circle cx="280.8" cy="1621" r="3.1" fill="#F8766D"/><circle cx="156.8" cy="1642" r="3.1" fill="#F8766D"/><path d="M177.7 1634.2L181.3 1640.2L174.1 1640.2Z" fill="#00BA38"/><circle cx="152.2" cy="1606.8" r="3.1" fill="#F8766D"/><circle cx="158.1" cy="1666.5" r="3.1" fill="#F8766D"/><path d="M155.8 1619.1L159.4 1625.1L152.2 1625.1Z" fill="#00BA38"/><circle cx="430.8" cy="1636.7" r="3.1" fill="#F8766D"/><circle cx="169.7" cy="1604.3" r="3.1" fill="#F8766D"/><path d="M157 1623.6L160.6 1629.6L153.4 1629.6Z" fill="#00BA38"/><circle cx="253.2" cy="1628" r="3.1" fill="#F8766D"/><path d="M152 1656.1L155.6 1662.1L148.4 1662.1Z" fill="#00BA38"/><path d="M154 1638.2L157.6 1644.2L150.4 1644.2Z" fill="#00BA38"/><circle cx="185.7" cy="1688" r="3.1" fill="#F8766D"/><circle cx="171.2" cy="1575.5" r="3.1" fill="#F8766D"/><path d="M154.4 1623.6L158 1629.6L150.8 1629.6Z" fill="#00BA38"/><path d="M306.3 1512.3L309.9 1518.3L302.7 1518.3Z" fill="#00BA38"/><circle cx="160.4" cy="1624.6" r="3.1" fill="#F8766D"/><circle cx="181.4" cy="1604.8" r="3.1" fill="#F8766D"/><path d="M430.8 1507.9L434.4 1513.9L427.1 1513.9Z" fill="#00BA38"/><path d="M176.8 1607.2L180.4 1613.2L173.2 1613.2Z" fill="#00BA38"/><path d="M148.9 1605.4L152.5 1611.4L145.3 1611.4Z" fill="#00BA38"/><path d="M219.2 1542.4L222.8 1548.4L215.7 1548.4Z" fill="#00BA38"/><path d="M152.1 1616.4L155.7 1622.4L148.5 1622.4Z" fill="#00BA38"/><path d="M155.1 1660.4L158.7 1666.4L151.5 1666.4Z" fill="#00BA38"/><circle cx="166.1" cy="1648.7" r="3.1" fill="#F8766D"/><path d="M228.3 1635.6L231.9 1641.6L224.7 1641.6Z" fill="#00BA38"/><path d="M176.2 1588.1L179.8 1594.1L172.7 1594.1Z" fill="#00BA38"/><circle cx="176.3" cy="1676" r="3.1" fill="#F8766D"/><circle cx="159.4" cy="1654.6" r="3.1" fill="#F8766D"/><path d="M153.9 1616.9L157.5 1622.9L150.3 1622.9Z" fill="#00BA38"/><circle cx="156.7" cy="1661" r="3.1" fill="#F8766D"/><circle cx="160.3" cy="1695.3" r="3.1" fill="#F8766D"/><path d="M167.7 1644.9L171.3 1650.9L164.1 1650.9Z" fill="#00BA38"/><circle cx="152.9" cy="1640.2" r="3.1" fill="#F8766D"/><circle cx="160.9" cy="1624" r="3.1" fill="#F8766D"/><path d="M164.3 1698.9L167.9 1704.9L160.7 1704.9Z" fill="#00BA38"/><path d="M165 1658.2L168.6 1664.2L161.4 1664.2Z" fill="#00BA38"/><path d="M186.4 1641.4L190 1647.4L182.8 1647.4Z" fill="#00BA38"/><path d="M301.7 1701L305.3 1707L298.1 1707Z" fill="#00BA38"/><circle cx="157.1" cy="1637.6" r="3.1" fill="#F8766D"/><path d="M162.6 1644.1L166.2 1650.1L159 1650.1Z" fill="#00BA38"/><path d="M164.6 1642.5L168.2 1648.5L161 1648.5Z" fill="#00BA38"/><circle cx="395.8" cy="1472.2" r="3.1" fill="#F8766D"/><path d="M153.8 1655.3L157.4 1661.3L150.2 1661.3Z" fill="#00BA38"/><path d="M158.9 1651.5L162.5 1657.5L155.3 1657.5Z" fill="#00BA38"/><path d="M263 1699.6L266.6 1705.6L259.4 1705.6Z" fill="#00BA38"/><path d="M134.2 1591.9L137.8 1597.9L130.6 1597.9Z" fill="#00BA38"/><path d="M232.3 1650.2L235.9 1656.2L228.7 1656.2Z" fill="#00BA38"/><circle cx="236.7" cy="1643.7" r="3.1" fill="#F8766D"/><path d="M160.9 1638L164.5 1644L157.3 1644Z" fill="#00BA38"/><path d="M161.3 1622.8L164.9 1628.8L157.7 1628.8Z" fill="#00BA38"/><circle cx="271.2" cy="1843.3" r="3.1" fill="#F8766D"/><circle cx="158" cy="1554.5" r="3.1" fill="#F8766D"/><path d="M202.3 1687.6L205.9 1693.6L198.7 1693.6Z" fill="#00BA38"/><circle cx="178.7" cy="1606.7" r="3.1" fill="#F8766D"/><circle cx="170.3" cy="1612.7" r="3.1" fill="#F8766D"/><circle cx="157.3" cy="1666.8" r="3.1" fill="#F8766D"/><circle cx="193.4" cy="1640" r="3.1" fill="#F8766D"/><circle cx="155.7" cy="1605.3" r="3.1" fill="#F8766D"/><circle cx="154" cy="1637.4" r="3.1" fill="#F8766D"/><circle cx="155.4" cy="1643.6" r="3.1" fill="#F8766D"/><path d="M163.6 1614.9L167.2 1620.9L160 1620.9Z" fill="#00BA38"/><circle cx="165" cy="1615.3" r="3.1" fill="#F8766D"/><path d="M170.3 1648.9L173.9 1654.9L166.7 1654.9Z" fill="#00BA38"/><path d="M164.3 1675.6L167.9 1681.6L160.7 1681.6Z" fill="#00BA38"/><circle cx="195.7" cy="1664" r="3.1" fill="#F8766D"/><circle cx="189.7" cy="1659.3" r="3.1" fill="#F8766D"/><circle cx="170.1" cy="1659" r="3.1" fill="#F8766D"/><path d="M169.2 1653.4L172.8 1659.4L165.6 1659.4Z" fill="#00BA38"/><circle cx="165" cy="1638.7" r="3.1" fill="#F8766D"/><circle cx="238.8" cy="1503.8" r="3.1" fill="#F8766D"/><circle cx="300" cy="1404.2" r="3.1" fill="#F8766D"/><circle cx="203.7" cy="1620.7" r="3.1" fill="#F8766D"/><circle cx="216.2" cy="1621.2" r="3.1" fill="#F8766D"/><path d="M157.2 1609.1L160.8 1615.1L153.6 1615.1Z" fill="#00BA38"/><circle cx="184.3" cy="1651.3" r="3.1" fill="#F8766D"/><path d="M170.4 1634L174 1640L166.8 1640Z" fill="#00BA38"/><circle cx="245" cy="1638.7" r="3.1" fill="#F8766D"/><circle cx="208.8" cy="1598" r="3.1" fill="#F8766D"/><circle cx="156.9" cy="1654.9" r="3.1" fill="#F8766D"/><path d="M167.2 1634.5L170.8 1640.5L163.6 1640.5Z" fill="#00BA38"/><circle cx="185.7" cy="1638" r="3.1" fill="#F8766D"/><circle cx="157.6" cy="1609.4" r="3.1" fill="#F8766D"/><path d="M176.4 1653.2L180 1659.2L172.8 1659.2Z" fill="#00BA38"/><circle cx="157.7" cy="1683.3" r="3.1" fill="#F8766D"/><path d="M239.7 1668.6L243.3 1674.6L236.1 1674.6Z" fill="#00BA38"/><circle cx="164.9" cy="1619.5" r="3.1" fill="#F8766D"/><circle cx="169" cy="1644" r="3.1" fill="#F8766D"/><path d="M187.3 1637.9L190.9 1643.9L183.7 1643.9Z" fill="#00BA38"/><circle cx="197.8" cy="1530.5" r="3.1" fill="#F8766D"/><path d="M159.1 1672.3L162.7 1678.3L155.5 1678.3Z" fill="#00BA38"/><circle cx="162.2" cy="1615" r="3.1" fill="#F8766D"/><circle cx="231.8" cy="1618" r="3.1" fill="#F8766D"/><circle cx="169.9" cy="1608" r="3.1" fill="#F8766D"/><path d="M186 1613.6L189.6 1619.6L182.4 1619.6Z" fill="#00BA38"/><path d="M161 1628.9L164.6 1634.9L157.4 1634.9Z" fill="#00BA38"/><circle cx="152.8" cy="1609.9" r="3.1" fill="#F8766D"/><path d="M819.8 1620.6L823.4 1626.6L816.2 1626.6Z" fill="#00BA38"/><path d="M395.2 1625.4L398.9 1631.4L391.6 1631.4Z" fill="#00BA38"/><circle cx="199" cy="1640.7" r="3.1" fill="#F8766D"/><circle cx="152" cy="1580" r="3.1" fill="#F8766D"/><circle cx="178" cy="1638.6" r="3.1" fill="#F8766D"/><path d="M158.3 1632.9L161.9 1638.9L154.7 1638.9Z" fill="#00BA38"/><circle cx="157.9" cy="1649.2" r="3.1" fill="#F8766D"/><circle cx="152.7" cy="1610.2" r="3.1" fill="#F8766D"/><path d="M163.2 1683.3L166.8 1689.3L159.6 1689.3Z" fill="#00BA38"/><circle cx="236.5" cy="1566.5" r="3.1" fill="#F8766D"/><circle cx="165.6" cy="1620.7" r="3.1" fill="#F8766D"/><circle cx="175.4" cy="1655" r="3.1" fill="#F8766D"/><path d="M160.2 1643.6L163.8 1649.6L156.6 1649.6Z" fill="#00BA38"/><path d="M169.8 1641L173.4 1647L166.2 1647Z" fill="#00BA38"/><circle cx="167.6" cy="1646.1" r="3.1" fill="#F8766D"/><path d="M155.2 1639.7L158.8 1645.7L151.6 1645.7Z" fill="#00BA38"/><circle cx="230.5" cy="1756.6" r="3.1" fill="#F8766D"/><circle cx="151" cy="1655.8" r="3.1" fill="#F8766D"/><path d="M215.7 1632.9L219.3 1638.9L212.1 1638.9Z" fill="#00BA38"/><circle cx="154.4" cy="1655.8" r="3.1" fill="#F8766D"/><rect x="148.9" y="1582.5" width="6.1" height="6.1" fill="#619CFF"/><rect x="161.9" y="1663.6" width="6.1" height="6.1" fill="#619CFF"/><rect x="159.9" y="1687.6" width="6.1" height="6.1" fill="#619CFF"/><rect x="168.6" y="1615.6" width="6.1" height="6.1" fill="#619CFF"/><rect x="145.9" y="1635.6" width="6.1" height="6.1" fill="#619CFF"/><rect x="168.6" y="1635.6" width="6.1" height="6.1" fill="#619CFF"/><rect x="254" y="1728.5" width="6.1" height="6.1" fill="#619CFF"/><rect x="243.3" y="1668.5" width="6.1" height="6.1" fill="#619CFF"/></g>
<circle cx="193" cy="1632.4" r="5.2" fill="#F8766D"/>
<path d="M193 1623.1L200.4 1635.5L185.6 1635.5Z" fill="#00BA38"/>
<rect x="177.3" y="1644.4" width="11.4" height="11.4" fill="#619CFF"/>
<text class="lt" x="1146.6" y="1597.5" textLength="53" lengthAdjust="spacingAndGlyphs">cluster</text>
<rect x="1148.3" y="1608.8" width="26" height="25.8" fill="#F2F2F2" stroke="#F8766D" stroke-opacity="0.85" stroke-width="1.4"/>
<circle cx="1161.2" cy="1622.1" r="5.6" fill="#F8766D"/>
<text class="ll" x="1183.3" y="1628.2">1</text>
<rect x="1148.3" y="1636.6" width="26" height="25.8" fill="#F2F2F2" stroke="#00BA38" stroke-opacity="0.85" stroke-width="1.4"/>
<path d="M1161.1 1641.3L1168.6 1653.5L1153.6 1653.5Z" fill="#00BA38"/>
<text class="ll" x="1183.3" y="1656">2</text>
<rect x="1148.3" y="1664.5" width="26" height="25.8" fill="#F2F2F2" stroke="#619CFF" stroke-opacity="0.85" stroke-width="1.4"/>
<rect x="1155.7" y="1671.4" width="10.8" height="10.8" fill="#619CFF"/>
<text class="ll" x="1183.3" y="1683.9">3</text>
<text class="cp" y="1975.2"><tspan x="465.8" textLength="34.6" lengthAdjust="spacingAndGlyphs">(c)</tspan><tspan x="502.6" textLength="255.9" lengthAdjust="spacingAndGlyphs"> TADPole clustering</tspan></text>
</g>
</svg></body></html>
